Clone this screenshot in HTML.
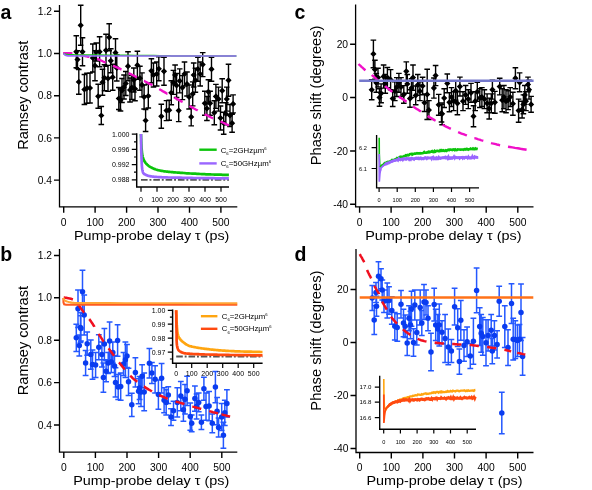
<!DOCTYPE html>
<html><head><meta charset="utf-8"><title>Figure</title>
<style>
html,body{margin:0;padding:0;background:#fff;}
svg{display:block;will-change:transform;}
text{font-family:"Liberation Sans",sans-serif;fill:#000;}
.tk{font-size:10.3px;}
.al{font-size:14px;}
.xl{font-size:13px;}
.pl{font-size:19.5px;font-weight:bold;}
.it{font-size:7px;}
.it2{font-size:5.6px;}
.it3{font-size:6.1px;}
.lg{font-size:7.8px;}
</style></head>
<body>
<svg width="592" height="490" viewBox="0 0 592 490">
<rect width="592" height="490" fill="#fff"/>
<path d="M59.5 5V206.8H237.3" fill="none" stroke="#000" stroke-width="1.3"/>
<path d="M54.0 11.3H59.5M54.0 53.5H59.5M54.0 95.7H59.5M54.0 137.9H59.5M54.0 180.1H59.5M63.7 206.8V212.8M95.1 206.8V212.8M126.6 206.8V212.8M158.0 206.8V212.8M189.5 206.8V212.8M220.9 206.8V212.8" fill="none" stroke="#000" stroke-width="1.4"/>
<text x="52.0" y="14.9" text-anchor="end" class="tk">1.2</text>
<text x="52.0" y="57.1" text-anchor="end" class="tk">1.0</text>
<text x="52.0" y="99.3" text-anchor="end" class="tk">0.8</text>
<text x="52.0" y="141.5" text-anchor="end" class="tk">0.6</text>
<text x="52.0" y="183.7" text-anchor="end" class="tk">0.4</text>
<text x="63.7" y="225.60000000000002" text-anchor="middle" class="tk">0</text>
<text x="95.1" y="225.60000000000002" text-anchor="middle" class="tk">100</text>
<text x="126.6" y="225.60000000000002" text-anchor="middle" class="tk">200</text>
<text x="158.0" y="225.60000000000002" text-anchor="middle" class="tk">300</text>
<text x="189.5" y="225.60000000000002" text-anchor="middle" class="tk">400</text>
<text x="220.9" y="225.60000000000002" text-anchor="middle" class="tk">500</text>
<text x="0.5" y="18.7" class="pl">a</text>
<text transform="translate(28.2,149.8) rotate(-90)" class="al" textLength="109" lengthAdjust="spacingAndGlyphs">Ramsey contrast</text>
<text x="73.9" y="240.4" class="xl" textLength="155.5" lengthAdjust="spacingAndGlyphs">Pump-probe delay τ (ps)</text>
<path d="M76.3 35.8V67.8M73.5 35.8h5.6M73.5 67.8h5.6M77.5 50.6V68.6M74.7 50.6h5.6M74.7 68.6h5.6M78.8 69.5V94.3M76.0 69.5h5.6M76.0 94.3h5.6M80.7 5.3V45.3M77.9 5.3h5.6M77.9 45.3h5.6M82.5 37.8V65.8M79.7 37.8h5.6M79.7 65.8h5.6M84.4 74.5V104.5M81.6 74.5h5.6M81.6 104.5h5.6M86.9 73.2V103.2M84.1 73.2h5.6M84.1 103.2h5.6M90.0 73.0V103.0M87.2 73.0h5.6M87.2 103.0h5.6M92.8 44.0V72.0M90.0 44.0h5.6M90.0 72.0h5.6M95.0 50.7V80.7M92.2 50.7h5.6M92.2 80.7h5.6M96.3 43.0V61.0M93.5 43.0h5.6M93.5 61.0h5.6M98.2 84.3V108.3M95.4 84.3h5.6M95.4 108.3h5.6M99.6 36.8V66.8M96.8 36.8h5.6M96.8 66.8h5.6M101.3 106.5V124.5M98.5 106.5h5.6M98.5 124.5h5.6M102.5 69.3V95.3M99.7 69.3h5.6M99.7 95.3h5.6M104.4 64.8V90.8M101.6 64.8h5.6M101.6 90.8h5.6M106.0 34.3V66.3M103.2 34.3h5.6M103.2 66.3h5.6M108.0 65.4V91.4M105.2 65.4h5.6M105.2 91.4h5.6M109.2 23.8V50.8M106.4 23.8h5.6M106.4 50.8h5.6M110.8 48.8V72.8M108.0 48.8h5.6M108.0 72.8h5.6M112.7 64.2V90.2M109.9 64.2h5.6M109.9 90.2h5.6M115.5 38.7V66.7M112.7 38.7h5.6M112.7 66.7h5.6M116.8 55.0V81.0M114.0 55.0h5.6M114.0 81.0h5.6M118.8 87.5V109.5M116.0 87.5h5.6M116.0 109.5h5.6M120.5 89.0V111.0M117.7 89.0h5.6M117.7 111.0h5.6M122.0 78.5V102.5M119.2 78.5h5.6M119.2 102.5h5.6M124.0 75.0V99.0M121.2 75.0h5.6M121.2 99.0h5.6M125.8 71.5V95.5M123.0 71.5h5.6M123.0 95.5h5.6M128.0 51.7V80.7M125.2 51.7h5.6M125.2 80.7h5.6M130.0 78.0V102.0M127.2 78.0h5.6M127.2 102.0h5.6M131.8 75.5V99.5M129.0 75.5h5.6M129.0 99.5h5.6M133.8 68.0V92.0M131.0 68.0h5.6M131.0 92.0h5.6M135.0 76.8V100.8M132.2 76.8h5.6M132.2 100.8h5.6M137.4 51.2V79.2M134.6 51.2h5.6M134.6 79.2h5.6M139.9 66.2V90.2M137.1 66.2h5.6M137.1 90.2h5.6M142.0 72.9V96.9M139.2 72.9h5.6M139.2 96.9h5.6M144.1 85.0V109.0M141.3 85.0h5.6M141.3 109.0h5.6M145.6 109.5V131.5M142.8 109.5h5.6M142.8 131.5h5.6M148.3 84.0V108.0M145.5 84.0h5.6M145.5 108.0h5.6M151.4 58.8V82.8M148.6 58.8h5.6M148.6 82.8h5.6M153.5 63.0V87.0M150.7 63.0h5.6M150.7 87.0h5.6M156.7 62.0V86.0M153.9 62.0h5.6M153.9 86.0h5.6M158.8 56.8V80.8M156.0 56.8h5.6M156.0 80.8h5.6M161.3 104.3V128.3M158.5 104.3h5.6M158.5 128.3h5.6M164.0 57.3V85.3M161.2 57.3h5.6M161.2 85.3h5.6M166.5 100.6V120.6M163.7 100.6h5.6M163.7 120.6h5.6M169.2 100.2V120.2M166.4 100.2h5.6M166.4 120.2h5.6M171.3 80.8V104.8M168.5 80.8h5.6M168.5 104.8h5.6M173.4 70.4V94.4M170.6 70.4h5.6M170.6 94.4h5.6M175.1 65.0V85.0M172.3 65.0h5.6M172.3 85.0h5.6M176.6 73.5V97.5M173.8 73.5h5.6M173.8 97.5h5.6M178.7 99.6V121.6M175.9 99.6h5.6M175.9 121.6h5.6M179.7 68.9V92.9M176.9 68.9h5.6M176.9 92.9h5.6M182.4 75.6V99.6M179.6 75.6h5.6M179.6 99.6h5.6M184.5 62.0V86.0M181.7 62.0h5.6M181.7 86.0h5.6M187.0 72.0V96.0M184.2 72.0h5.6M184.2 96.0h5.6M189.1 85.0V109.0M186.3 85.0h5.6M186.3 109.0h5.6M191.2 107.9V125.9M188.4 107.9h5.6M188.4 125.9h5.6M192.7 81.9V105.9M189.9 81.9h5.6M189.9 105.9h5.6M193.7 63.0V87.0M190.9 63.0h5.6M190.9 87.0h5.6M195.4 68.3V92.3M192.6 68.3h5.6M192.6 92.3h5.6M197.9 57.2V81.2M195.1 57.2h5.6M195.1 81.2h5.6M200.2 62.0V86.0M197.4 62.0h5.6M197.4 86.0h5.6M202.7 52.6V76.6M199.9 52.6h5.6M199.9 76.6h5.6M204.8 91.3V115.3M202.0 91.3h5.6M202.0 115.3h5.6M206.9 96.5V120.5M204.1 96.5h5.6M204.1 120.5h5.6M208.4 79.8V103.8M205.6 79.8h5.6M205.6 103.8h5.6M210.1 91.3V115.3M207.3 91.3h5.6M207.3 115.3h5.6M211.5 57.2V81.2M208.7 57.2h5.6M208.7 81.2h5.6M214.3 100.7V124.7M211.5 100.7h5.6M211.5 124.7h5.6M215.9 84.4V108.4M213.1 84.4h5.6M213.1 108.4h5.6M218.5 87.1V111.1M215.7 87.1h5.6M215.7 111.1h5.6M220.5 106.0V130.0M217.7 106.0h5.6M217.7 130.0h5.6M222.2 78.7V102.7M219.4 78.7h5.6M219.4 102.7h5.6M223.7 112.2V134.2M220.9 112.2h5.6M220.9 134.2h5.6M225.8 102.8V124.8M223.0 102.8h5.6M223.0 124.8h5.6M226.8 87.1V111.1M224.0 87.1h5.6M224.0 111.1h5.6M228.5 64.3V96.3M225.7 64.3h5.6M225.7 96.3h5.6M230.0 104.5V126.5M227.2 104.5h5.6M227.2 126.5h5.6M232.1 114.2V132.2M229.3 114.2h5.6M229.3 132.2h5.6M233.1 94.9V112.9M230.3 94.9h5.6M230.3 112.9h5.6" fill="none" stroke="#000" stroke-width="1.4"/>
<path d="M76.3 48.7l3.1 3.1l-3.1 3.1l-3.1 -3.1zM77.5 56.5l3.1 3.1l-3.1 3.1l-3.1 -3.1zM78.8 78.8l3.1 3.1l-3.1 3.1l-3.1 -3.1zM80.7 22.2l3.1 3.1l-3.1 3.1l-3.1 -3.1zM82.5 48.7l3.1 3.1l-3.1 3.1l-3.1 -3.1zM84.4 86.4l3.1 3.1l-3.1 3.1l-3.1 -3.1zM86.9 85.1l3.1 3.1l-3.1 3.1l-3.1 -3.1zM90.0 84.9l3.1 3.1l-3.1 3.1l-3.1 -3.1zM92.8 54.9l3.1 3.1l-3.1 3.1l-3.1 -3.1zM95.0 62.6l3.1 3.1l-3.1 3.1l-3.1 -3.1zM96.3 48.9l3.1 3.1l-3.1 3.1l-3.1 -3.1zM98.2 93.2l3.1 3.1l-3.1 3.1l-3.1 -3.1zM99.6 48.7l3.1 3.1l-3.1 3.1l-3.1 -3.1zM101.3 112.4l3.1 3.1l-3.1 3.1l-3.1 -3.1zM102.5 79.2l3.1 3.1l-3.1 3.1l-3.1 -3.1zM104.4 74.7l3.1 3.1l-3.1 3.1l-3.1 -3.1zM106.0 47.2l3.1 3.1l-3.1 3.1l-3.1 -3.1zM108.0 75.3l3.1 3.1l-3.1 3.1l-3.1 -3.1zM109.2 34.2l3.1 3.1l-3.1 3.1l-3.1 -3.1zM110.8 57.7l3.1 3.1l-3.1 3.1l-3.1 -3.1zM112.7 74.1l3.1 3.1l-3.1 3.1l-3.1 -3.1zM115.5 49.6l3.1 3.1l-3.1 3.1l-3.1 -3.1zM116.8 64.9l3.1 3.1l-3.1 3.1l-3.1 -3.1zM118.8 95.4l3.1 3.1l-3.1 3.1l-3.1 -3.1zM120.5 96.9l3.1 3.1l-3.1 3.1l-3.1 -3.1zM122.0 87.4l3.1 3.1l-3.1 3.1l-3.1 -3.1zM124.0 83.9l3.1 3.1l-3.1 3.1l-3.1 -3.1zM125.8 80.4l3.1 3.1l-3.1 3.1l-3.1 -3.1zM128.0 63.1l3.1 3.1l-3.1 3.1l-3.1 -3.1zM130.0 86.9l3.1 3.1l-3.1 3.1l-3.1 -3.1zM131.8 84.4l3.1 3.1l-3.1 3.1l-3.1 -3.1zM133.8 76.9l3.1 3.1l-3.1 3.1l-3.1 -3.1zM135.0 85.7l3.1 3.1l-3.1 3.1l-3.1 -3.1zM137.4 62.1l3.1 3.1l-3.1 3.1l-3.1 -3.1zM139.9 75.1l3.1 3.1l-3.1 3.1l-3.1 -3.1zM142.0 81.8l3.1 3.1l-3.1 3.1l-3.1 -3.1zM144.1 93.9l3.1 3.1l-3.1 3.1l-3.1 -3.1zM145.6 117.4l3.1 3.1l-3.1 3.1l-3.1 -3.1zM148.3 92.9l3.1 3.1l-3.1 3.1l-3.1 -3.1zM151.4 67.7l3.1 3.1l-3.1 3.1l-3.1 -3.1zM153.5 71.9l3.1 3.1l-3.1 3.1l-3.1 -3.1zM156.7 70.9l3.1 3.1l-3.1 3.1l-3.1 -3.1zM158.8 65.7l3.1 3.1l-3.1 3.1l-3.1 -3.1zM161.3 113.2l3.1 3.1l-3.1 3.1l-3.1 -3.1zM164.0 68.2l3.1 3.1l-3.1 3.1l-3.1 -3.1zM166.5 107.5l3.1 3.1l-3.1 3.1l-3.1 -3.1zM169.2 107.1l3.1 3.1l-3.1 3.1l-3.1 -3.1zM171.3 89.7l3.1 3.1l-3.1 3.1l-3.1 -3.1zM173.4 79.3l3.1 3.1l-3.1 3.1l-3.1 -3.1zM175.1 71.9l3.1 3.1l-3.1 3.1l-3.1 -3.1zM176.6 82.4l3.1 3.1l-3.1 3.1l-3.1 -3.1zM178.7 107.5l3.1 3.1l-3.1 3.1l-3.1 -3.1zM179.7 77.8l3.1 3.1l-3.1 3.1l-3.1 -3.1zM182.4 84.5l3.1 3.1l-3.1 3.1l-3.1 -3.1zM184.5 70.9l3.1 3.1l-3.1 3.1l-3.1 -3.1zM187.0 80.9l3.1 3.1l-3.1 3.1l-3.1 -3.1zM189.1 93.9l3.1 3.1l-3.1 3.1l-3.1 -3.1zM191.2 113.8l3.1 3.1l-3.1 3.1l-3.1 -3.1zM192.7 90.8l3.1 3.1l-3.1 3.1l-3.1 -3.1zM193.7 71.9l3.1 3.1l-3.1 3.1l-3.1 -3.1zM195.4 77.2l3.1 3.1l-3.1 3.1l-3.1 -3.1zM197.9 66.1l3.1 3.1l-3.1 3.1l-3.1 -3.1zM200.2 70.9l3.1 3.1l-3.1 3.1l-3.1 -3.1zM202.7 61.5l3.1 3.1l-3.1 3.1l-3.1 -3.1zM204.8 100.2l3.1 3.1l-3.1 3.1l-3.1 -3.1zM206.9 105.4l3.1 3.1l-3.1 3.1l-3.1 -3.1zM208.4 88.7l3.1 3.1l-3.1 3.1l-3.1 -3.1zM210.1 100.2l3.1 3.1l-3.1 3.1l-3.1 -3.1zM211.5 66.1l3.1 3.1l-3.1 3.1l-3.1 -3.1zM214.3 109.6l3.1 3.1l-3.1 3.1l-3.1 -3.1zM215.9 93.3l3.1 3.1l-3.1 3.1l-3.1 -3.1zM218.5 96.0l3.1 3.1l-3.1 3.1l-3.1 -3.1zM220.5 114.9l3.1 3.1l-3.1 3.1l-3.1 -3.1zM222.2 87.6l3.1 3.1l-3.1 3.1l-3.1 -3.1zM223.7 120.1l3.1 3.1l-3.1 3.1l-3.1 -3.1zM225.8 110.7l3.1 3.1l-3.1 3.1l-3.1 -3.1zM226.8 96.0l3.1 3.1l-3.1 3.1l-3.1 -3.1zM228.5 77.2l3.1 3.1l-3.1 3.1l-3.1 -3.1zM230.0 112.4l3.1 3.1l-3.1 3.1l-3.1 -3.1zM232.1 120.1l3.1 3.1l-3.1 3.1l-3.1 -3.1zM233.1 100.8l3.1 3.1l-3.1 3.1l-3.1 -3.1z" fill="#000"/>
<path d="M63.1 53.2L63.8 53.2L64.7 53.2L65.8 53.2L67.0 53.1L68.3 53.1L69.7 53.2L71.1 53.3L72.4 53.4M80.2 54.9L80.5 55.0L82.2 55.4L83.7 55.7L85.0 56.0L86.2 56.2L87.3 56.5L88.3 56.7L89.2 56.9L89.3 56.9M97.1 58.9L97.5 59.0L98.3 59.3L99.2 59.7L100.1 60.1L101.1 60.5L102.1 61.0L103.1 61.5L104.0 61.9L105.0 62.3L105.6 62.6M113.1 65.5L113.5 65.8L114.6 66.3L115.8 66.8L116.9 67.3L118.0 67.9L119.1 68.4L120.2 68.9L121.2 69.4L121.5 69.5M128.7 73.0L129.7 73.6L130.8 74.1L132.0 74.8L133.2 75.4L134.4 76.0L135.6 76.6L136.7 77.2L136.9 77.3M144.0 81.0L144.1 81.0L145.1 81.5L146.1 82.0L147.1 82.5L148.2 83.1L149.3 83.6L150.4 84.2L151.5 84.7L152.3 85.2M159.3 89.1L159.9 89.5L160.8 90.0L161.7 90.5L162.6 91.1L163.6 91.6L164.5 92.1L165.4 92.6L166.4 93.2L167.3 93.7L167.4 93.7M174.4 97.5L174.5 97.6L175.5 98.1L176.5 98.7L177.6 99.2L178.7 99.9L179.8 100.5L180.9 101.1L181.9 101.7L182.6 102.0M189.5 106.0L190.2 106.4L191.2 107.0L192.4 107.6L193.6 108.3L194.9 109.0L196.2 109.7L197.4 110.3L197.7 110.5M204.8 114.2L205.0 114.4L205.9 114.8L206.9 115.3L207.9 115.8L209.0 116.4L210.1 116.9L211.2 117.5L212.3 118.0L213.1 118.4M220.5 121.5L220.5 121.5L221.5 121.9L222.6 122.5L223.9 123.0L225.1 123.6L226.3 124.2L227.3 124.7L228.2 125.1L228.9 125.4" fill="none" stroke="#f010c8" stroke-width="2.4"/>
<path d="M63.7 53.5L63.9 53.6L64.1 53.7L64.5 53.8L64.8 54.0L65.2 54.1L65.5 54.2L65.8 54.3L66.0 54.4L66.2 54.4L66.5 54.5L67.0 54.5L67.8 54.6L68.8 54.7L70.0 54.7L71.4 54.8L73.0 54.8L74.9 54.9L77.1 54.9L79.5 54.9L82.1 55.0L85.0 55.0L88.2 55.0L91.8 55.1L95.8 55.1L100.4 55.1L105.4 55.2L110.9 55.2L116.6 55.2L122.4 55.3L128.2 55.3L134.3 55.4L140.8 55.4L147.4 55.5L153.8 55.6L159.8 55.7L165.0 55.8L168.9 55.8L171.7 55.9L174.1 55.9L176.6 55.9L180.0 56.0L185.0 56.0L192.3 56.0L201.7 56.0L211.9 56.0L221.9 56.0L230.4 56.0L236.4 56.0" fill="none" stroke="#18c418" stroke-width="1.5" />
<path d="M63.7 53.5L63.8 53.6L63.9 53.8L64.0 54.0L64.2 54.2L64.4 54.4L64.6 54.6L64.8 54.8L65.0 55.0L65.2 55.1L65.5 55.3L65.9 55.5L66.5 55.6L67.1 55.7L67.6 55.8L68.2 55.8L69.1 55.8L70.5 55.9L72.5 55.9L74.0 55.9L74.6 56.0L75.7 56.0L78.7 56.0L84.9 56.0L95.8 56.0L114.1 56.0L139.2 56.0L167.6 56.0L195.6 56.0L219.7 56.0L236.4 56.0" fill="none" stroke="#9a68ff" stroke-width="1.7" />
<path d="M136.7 133.3V186.9H229" fill="none" stroke="#000" stroke-width="1.45"/>
<path d="M131.8 134.2H136.5M131.8 149.4H136.5M131.8 164.6H136.5M131.8 179.8H136.5M134.0 141.8H136.5M134.0 157H136.5M134.0 172.2H136.5M141.0 186.9v4.9M157.0 186.9v4.9M173.0 186.9v4.9M189.0 186.9v4.9M205.0 186.9v4.9M221.0 186.9v4.9" fill="none" stroke="#000" stroke-width="1.2"/>
<text x="129.5" y="136.5" text-anchor="end" class="it">1.000</text>
<text x="129.5" y="151.70000000000002" text-anchor="end" class="it">0.996</text>
<text x="129.5" y="166.9" text-anchor="end" class="it">0.992</text>
<text x="129.5" y="182.10000000000002" text-anchor="end" class="it">0.988</text>
<text x="141.0" y="201.6" text-anchor="middle" class="it">0</text>
<text x="157.0" y="201.6" text-anchor="middle" class="it">100</text>
<text x="173.0" y="201.6" text-anchor="middle" class="it">200</text>
<text x="189.0" y="201.6" text-anchor="middle" class="it">300</text>
<text x="205.0" y="201.6" text-anchor="middle" class="it">400</text>
<text x="221.0" y="201.6" text-anchor="middle" class="it">500</text>
<path d="M141 179.9H229" fill="none" stroke="#555" stroke-width="1.9" stroke-dasharray="6.6 1.9 1.9 1.9"/>
<path d="M141.0 134.0L141.0 134.4L141.0 134.9L141.0 135.4L141.1 136.0L141.1 136.6L141.1 137.3L141.1 138.0L141.2 138.8L141.2 139.6L141.2 140.4L141.2 141.2L141.3 142.0L141.3 142.8L141.3 143.6L141.4 144.4L141.4 145.2L141.5 146.0L141.5 146.7L141.5 147.4L141.6 148.0L141.7 148.6L141.7 149.2L141.7 149.8L141.8 150.3L141.8 150.9L141.9 151.4L141.9 151.9L142.0 152.5L142.0 153.0L142.1 153.5L142.2 154.0L142.2 154.5L142.3 154.9L142.4 155.4L142.5 155.9L142.6 156.3L142.7 156.8L142.8 157.2L143.0 157.7L143.1 158.1L143.3 158.5L143.4 158.9L143.6 159.4L143.8 159.8L143.9 160.1L144.1 160.5L144.3 160.9L144.5 161.3L144.7 161.6L145.0 162.0L145.2 162.3L145.4 162.7L145.7 163.0L145.9 163.3L146.2 163.7L146.5 164.0L146.8 164.3L147.1 164.6L147.5 164.9L147.8 165.2L148.2 165.5L148.5 165.8L148.9 166.1L149.3 166.3L149.7 166.6L150.1 166.9L150.5 167.1L150.9 167.4L151.4 167.6L151.8 167.8L152.3 168.1L152.8 168.3L153.3 168.5L153.8 168.7L154.3 168.9L154.9 169.1L155.4 169.3L156.0 169.5L156.7 169.7L157.3 169.9L158.0 170.1L158.6 170.2L159.3 170.4L159.9 170.5L160.6 170.7L161.3 170.8L162.0 170.9L162.7 171.0L163.5 171.2L164.2 171.3L165.0 171.4L165.8 171.5L166.7 171.6L167.6 171.7L168.5 171.8L169.5 171.9L170.5 172.0L171.5 172.1L172.6 172.2L173.8 172.3L175.0 172.4L176.3 172.5L177.7 172.6L179.1 172.7L180.6 172.8L182.2 172.9L183.8 173.0L185.4 173.2L187.0 173.3L188.7 173.4L190.4 173.5L192.1 173.6L193.7 173.6L195.4 173.7L197.0 173.8L198.6 173.9L200.2 174.0L201.7 174.1L203.2 174.1L204.6 174.2L206.0 174.3L207.4 174.3L208.8 174.4L210.3 174.4L211.7 174.5L213.1 174.5L214.6 174.6L216.0 174.6L217.3 174.6L218.7 174.7L220.0 174.7L221.2 174.7L222.5 174.8L223.6 174.8L224.7 174.8L225.7 174.8L226.6 174.8L227.5 174.9L228.2 174.9L228.9 174.9" fill="none" stroke="#0cc40c" stroke-width="2.7" />
<path d="M141.0 134.0L141.0 134.6L141.0 135.3L141.0 136.1L141.0 137.0L141.1 137.9L141.1 138.9L141.1 140.0L141.1 141.2L141.1 142.4L141.1 143.6L141.2 144.8L141.2 146.0L141.2 147.3L141.2 148.5L141.2 149.7L141.3 150.9L141.3 152.0L141.3 153.1L141.4 154.1L141.4 155.0L141.4 155.9L141.5 156.8L141.5 157.7L141.5 158.5L141.6 159.4L141.6 160.2L141.6 161.1L141.7 161.9L141.7 162.7L141.7 163.5L141.8 164.2L141.8 165.0L141.9 165.7L141.9 166.4L142.0 167.0L142.1 167.7L142.1 168.3L142.2 168.8L142.3 169.4L142.4 169.9L142.5 170.4L142.6 170.8L142.7 171.2L142.7 171.5L142.8 171.9L142.9 172.2L143.0 172.4L143.1 172.7L143.2 172.9L143.3 173.1L143.4 173.3L143.5 173.4L143.7 173.6L143.9 173.8L144.1 173.9L144.3 174.1L144.5 174.2L144.8 174.4L145.1 174.5L145.5 174.7L145.9 174.9L146.2 175.0L146.6 175.2L147.0 175.3L147.3 175.5L147.7 175.6L148.2 175.7L148.6 175.9L149.1 176.0L149.5 176.1L150.1 176.2L150.7 176.3L151.3 176.4L151.9 176.5L152.7 176.6L153.5 176.7L154.3 176.8L155.2 176.8L156.2 176.9L157.3 177.0L158.5 177.1L159.7 177.1L161.0 177.2L162.4 177.3L163.9 177.3L165.4 177.4L167.0 177.4L168.6 177.5L170.2 177.5L172.0 177.6L173.7 177.6L175.5 177.6L177.3 177.7L179.1 177.7L180.9 177.7L182.7 177.8L184.6 177.8L186.4 177.8L188.2 177.9L190.0 177.9L191.9 177.9L193.8 178.0L195.9 178.0L198.0 178.0L200.2 178.1L202.4 178.1L204.7 178.1L207.0 178.2L209.2 178.2L211.5 178.2L213.7 178.2L215.8 178.3L217.9 178.3L219.9 178.3L221.8 178.3L223.5 178.3L225.1 178.4L226.6 178.4L227.8 178.4L228.9 178.4" fill="none" stroke="#9a66ff" stroke-width="2.7" />
<path d="M199.3 149.7H216.7" stroke="#0cc40c" stroke-width="2.4"/>
<path d="M199.3 163.4H216.7" stroke="#9a66ff" stroke-width="2.4"/>
<text x="220.7" y="152.8" class="lg" textLength="45.8" lengthAdjust="spacingAndGlyphs">C<tspan dy="2.2" font-size="4.2">6</tspan><tspan dy="-2.2">=2GHzµm</tspan><tspan dy="-3.0" font-size="4.2">6</tspan></text>
<text x="220.7" y="166" class="lg" textLength="50.4" lengthAdjust="spacingAndGlyphs">C<tspan dy="2.2" font-size="4.2">6</tspan><tspan dy="-2.2">=50GHzµm</tspan><tspan dy="-3.0" font-size="4.2">6</tspan></text>
<path d="M355.6 4.5V206.8H533.5" fill="none" stroke="#000" stroke-width="1.3"/>
<path d="M350.1 44.2H355.6M350.1 97.5H355.6M350.1 151H355.6M350.1 204.2H355.6M359.6 206.8V212.8M391.1 206.8V212.8M422.6 206.8V212.8M454.3 206.8V212.8M486.2 206.8V212.8M517.8 206.8V212.8" fill="none" stroke="#000" stroke-width="1.4"/>
<text x="348.1" y="47.800000000000004" text-anchor="end" class="tk">20</text>
<text x="348.1" y="101.1" text-anchor="end" class="tk">0</text>
<text x="348.1" y="154.6" text-anchor="end" class="tk">-20</text>
<text x="348.1" y="207.79999999999998" text-anchor="end" class="tk">-40</text>
<text x="359.6" y="225.60000000000002" text-anchor="middle" class="tk">0</text>
<text x="391.1" y="225.60000000000002" text-anchor="middle" class="tk">100</text>
<text x="422.6" y="225.60000000000002" text-anchor="middle" class="tk">200</text>
<text x="454.3" y="225.60000000000002" text-anchor="middle" class="tk">300</text>
<text x="486.2" y="225.60000000000002" text-anchor="middle" class="tk">400</text>
<text x="517.8" y="225.60000000000002" text-anchor="middle" class="tk">500</text>
<text x="294.5" y="18.7" class="pl">c</text>
<text transform="translate(321,165.3) rotate(-90)" class="al" textLength="139.8" lengthAdjust="spacingAndGlyphs">Phase shift (degrees)</text>
<text x="365.2" y="240.4" class="xl" textLength="156.3" lengthAdjust="spacingAndGlyphs">Pump-probe delay τ (ps)</text>
<path d="M373.4 40.1V67.8M370.6 40.1h5.6M370.6 67.8h5.6M371.7 79.7V99.8M368.9 79.7h5.6M368.9 99.8h5.6M374.9 60.2V79.1M372.1 60.2h5.6M372.1 79.1h5.6M376.3 73.4V92.3M373.5 73.4h5.6M373.5 92.3h5.6M378.0 68.2V87.0M375.2 68.2h5.6M375.2 87.0h5.6M379.5 88.7V106.3M376.7 88.7h5.6M376.7 106.3h5.6M381.1 83.9V102.7M378.3 83.9h5.6M378.3 102.7h5.6M383.6 65.0V88.1M380.8 65.0h5.6M380.8 88.1h5.6M385.3 74.5V93.3M382.5 74.5h5.6M382.5 93.3h5.6M387.4 67.5V87.7M384.6 67.5h5.6M384.6 87.7h5.6M390.6 69.6V89.8M387.8 69.6h5.6M387.8 89.8h5.6M392.7 90.6V106.5M389.9 90.6h5.6M389.9 106.5h5.6M394.8 81.8V100.6M392.0 81.8h5.6M392.0 100.6h5.6M396.8 77.6V96.5M394.0 77.6h5.6M394.0 96.5h5.6M398.9 73.4V92.3M396.1 73.4h5.6M396.1 92.3h5.6M401.0 77.6V96.5M398.2 77.6h5.6M398.2 96.5h5.6M403.8 85.6V103.2M401.0 85.6h5.6M401.0 103.2h5.6M406.3 61.9V80.7M403.5 61.9h5.6M403.5 80.7h5.6M407.3 74.5V93.3M404.5 74.5h5.6M404.5 93.3h5.6M410.0 89.8V107.3M407.2 89.8h5.6M407.2 107.3h5.6M411.5 78.7V97.5M408.7 78.7h5.6M408.7 97.5h5.6M413.0 65.0V90.2M410.2 65.0h5.6M410.2 90.2h5.6M415.7 86.0V104.8M412.9 86.0h5.6M412.9 104.8h5.6M417.8 74.5V95.4M415.0 74.5h5.6M415.0 95.4h5.6M419.9 81.8V100.6M417.1 81.8h5.6M417.1 100.6h5.6M422.6 77.2V94.8M419.8 77.2h5.6M419.8 94.8h5.6M424.5 93.9V111.5M421.7 93.9h5.6M421.7 111.5h5.6M427.2 69.2V119.5M424.4 69.2h5.6M424.4 119.5h5.6M428.9 100.6V119.5M426.1 100.6h5.6M426.1 119.5h5.6M433.9 78.0V98.1M431.1 78.0h5.6M431.1 98.1h5.6M435.6 65.5V85.6M432.8 65.5h5.6M432.8 85.6h5.6M438.7 94.4V115.3M435.9 94.4h5.6M435.9 115.3h5.6M441.5 104.4V122.0M438.7 104.4h5.6M438.7 122.0h5.6M442.1 102.9V124.7M439.3 102.9h5.6M439.3 124.7h5.6M444.2 88.7V107.5M441.4 88.7h5.6M441.4 107.5h5.6M447.3 74.0V92.8M444.5 74.0h5.6M444.5 92.8h5.6M449.4 92.8V111.7M446.6 92.8h5.6M446.6 111.7h5.6M451.5 87.6V106.5M448.7 87.6h5.6M448.7 106.5h5.6M453.6 91.8V110.6M450.8 91.8h5.6M450.8 110.6h5.6M455.7 81.3V100.2M452.9 81.3h5.6M452.9 100.2h5.6M457.4 91.8V114.8M454.6 91.8h5.6M454.6 114.8h5.6M459.9 77.1V96.0M457.1 77.1h5.6M457.1 96.0h5.6M463.0 91.8V110.6M460.2 91.8h5.6M460.2 110.6h5.6M465.6 85.5V104.4M462.8 85.5h5.6M462.8 104.4h5.6M468.3 89.7V108.6M465.5 89.7h5.6M465.5 108.6h5.6M471.0 83.4V102.3M468.2 83.4h5.6M468.2 102.3h5.6M473.5 105.8V126.8M470.7 105.8h5.6M470.7 126.8h5.6M475.2 91.8V110.6M472.4 91.8h5.6M472.4 110.6h5.6M477.3 82.4V101.2M474.5 82.4h5.6M474.5 101.2h5.6M479.8 88.7V107.5M477.0 88.7h5.6M477.0 107.5h5.6M481.9 87.6V106.5M479.1 87.6h5.6M479.1 106.5h5.6M484.4 89.7V108.6M481.6 89.7h5.6M481.6 108.6h5.6M487.1 93.9V112.7M484.3 93.9h5.6M484.3 112.7h5.6M489.2 98.1V119.0M486.4 98.1h5.6M486.4 119.0h5.6M491.3 93.9V112.7M488.5 93.9h5.6M488.5 112.7h5.6M492.4 80.3V99.1M489.6 80.3h5.6M489.6 99.1h5.6M494.9 91.4V113.2M492.1 91.4h5.6M492.1 113.2h5.6M499.7 78.2V94.9M496.9 78.2h5.6M496.9 94.9h5.6M502.2 88.7V111.7M499.4 88.7h5.6M499.4 111.7h5.6M503.9 85.5V108.6M501.1 85.5h5.6M501.1 108.6h5.6M506.0 89.7V112.7M503.2 89.7h5.6M503.2 112.7h5.6M508.1 90.7V109.6M505.3 90.7h5.6M505.3 109.6h5.6M510.2 87.6V106.5M507.4 87.6h5.6M507.4 106.5h5.6M512.9 92.2V115.3M510.1 92.2h5.6M510.1 115.3h5.6M515.4 67.7V88.7M512.6 67.7h5.6M512.6 88.7h5.6M518.6 99.1V122.2M515.8 99.1h5.6M515.8 122.2h5.6M519.6 72.9V91.8M516.8 72.9h5.6M516.8 91.8h5.6M522.1 101.2V118.0M519.3 101.2h5.6M519.3 118.0h5.6M523.4 94.9V113.8M520.6 94.9h5.6M520.6 113.8h5.6M524.8 85.5V104.4M522.0 85.5h5.6M522.0 104.4h5.6M525.9 91.8V110.6M523.1 91.8h5.6M523.1 110.6h5.6M528.0 77.1V91.8M525.2 77.1h5.6M525.2 91.8h5.6M529.0 80.3V99.1M526.2 80.3h5.6M526.2 99.1h5.6M531.1 96.4V112.3M528.3 96.4h5.6M528.3 112.3h5.6" fill="none" stroke="#000" stroke-width="1.4"/>
<path d="M373.4 50.8l3.1 3.1l-3.1 3.1l-3.1 -3.1zM371.7 86.7l3.1 3.1l-3.1 3.1l-3.1 -3.1zM374.9 66.5l3.1 3.1l-3.1 3.1l-3.1 -3.1zM376.3 79.7l3.1 3.1l-3.1 3.1l-3.1 -3.1zM378.0 74.5l3.1 3.1l-3.1 3.1l-3.1 -3.1zM379.5 94.4l3.1 3.1l-3.1 3.1l-3.1 -3.1zM381.1 90.2l3.1 3.1l-3.1 3.1l-3.1 -3.1zM383.6 73.5l3.1 3.1l-3.1 3.1l-3.1 -3.1zM385.3 80.8l3.1 3.1l-3.1 3.1l-3.1 -3.1zM387.4 74.5l3.1 3.1l-3.1 3.1l-3.1 -3.1zM390.6 76.6l3.1 3.1l-3.1 3.1l-3.1 -3.1zM392.7 95.5l3.1 3.1l-3.1 3.1l-3.1 -3.1zM394.8 88.1l3.1 3.1l-3.1 3.1l-3.1 -3.1zM396.8 83.9l3.1 3.1l-3.1 3.1l-3.1 -3.1zM398.9 79.7l3.1 3.1l-3.1 3.1l-3.1 -3.1zM401.0 83.9l3.1 3.1l-3.1 3.1l-3.1 -3.1zM403.8 91.3l3.1 3.1l-3.1 3.1l-3.1 -3.1zM406.3 68.2l3.1 3.1l-3.1 3.1l-3.1 -3.1zM407.3 80.8l3.1 3.1l-3.1 3.1l-3.1 -3.1zM410.0 95.5l3.1 3.1l-3.1 3.1l-3.1 -3.1zM411.5 85.0l3.1 3.1l-3.1 3.1l-3.1 -3.1zM413.0 74.5l3.1 3.1l-3.1 3.1l-3.1 -3.1zM415.7 92.3l3.1 3.1l-3.1 3.1l-3.1 -3.1zM417.8 81.8l3.1 3.1l-3.1 3.1l-3.1 -3.1zM419.9 88.1l3.1 3.1l-3.1 3.1l-3.1 -3.1zM422.6 82.9l3.1 3.1l-3.1 3.1l-3.1 -3.1zM424.5 99.6l3.1 3.1l-3.1 3.1l-3.1 -3.1zM427.2 91.3l3.1 3.1l-3.1 3.1l-3.1 -3.1zM428.9 107.0l3.1 3.1l-3.1 3.1l-3.1 -3.1zM433.9 85.0l3.1 3.1l-3.1 3.1l-3.1 -3.1zM435.6 72.4l3.1 3.1l-3.1 3.1l-3.1 -3.1zM438.7 101.7l3.1 3.1l-3.1 3.1l-3.1 -3.1zM441.5 110.1l3.1 3.1l-3.1 3.1l-3.1 -3.1zM442.1 110.7l3.1 3.1l-3.1 3.1l-3.1 -3.1zM444.2 95.0l3.1 3.1l-3.1 3.1l-3.1 -3.1zM447.3 80.3l3.1 3.1l-3.1 3.1l-3.1 -3.1zM449.4 99.2l3.1 3.1l-3.1 3.1l-3.1 -3.1zM451.5 93.9l3.1 3.1l-3.1 3.1l-3.1 -3.1zM453.6 98.1l3.1 3.1l-3.1 3.1l-3.1 -3.1zM455.7 87.6l3.1 3.1l-3.1 3.1l-3.1 -3.1zM457.4 100.2l3.1 3.1l-3.1 3.1l-3.1 -3.1zM459.9 83.5l3.1 3.1l-3.1 3.1l-3.1 -3.1zM463.0 98.1l3.1 3.1l-3.1 3.1l-3.1 -3.1zM465.6 91.8l3.1 3.1l-3.1 3.1l-3.1 -3.1zM468.3 96.0l3.1 3.1l-3.1 3.1l-3.1 -3.1zM471.0 89.7l3.1 3.1l-3.1 3.1l-3.1 -3.1zM473.5 113.2l3.1 3.1l-3.1 3.1l-3.1 -3.1zM475.2 98.1l3.1 3.1l-3.1 3.1l-3.1 -3.1zM477.3 88.7l3.1 3.1l-3.1 3.1l-3.1 -3.1zM479.8 95.0l3.1 3.1l-3.1 3.1l-3.1 -3.1zM481.9 93.9l3.1 3.1l-3.1 3.1l-3.1 -3.1zM484.4 96.0l3.1 3.1l-3.1 3.1l-3.1 -3.1zM487.1 100.2l3.1 3.1l-3.1 3.1l-3.1 -3.1zM489.2 105.5l3.1 3.1l-3.1 3.1l-3.1 -3.1zM491.3 100.2l3.1 3.1l-3.1 3.1l-3.1 -3.1zM492.4 86.6l3.1 3.1l-3.1 3.1l-3.1 -3.1zM494.9 99.2l3.1 3.1l-3.1 3.1l-3.1 -3.1zM499.7 83.5l3.1 3.1l-3.1 3.1l-3.1 -3.1zM502.2 97.1l3.1 3.1l-3.1 3.1l-3.1 -3.1zM503.9 93.9l3.1 3.1l-3.1 3.1l-3.1 -3.1zM506.0 98.1l3.1 3.1l-3.1 3.1l-3.1 -3.1zM508.1 97.1l3.1 3.1l-3.1 3.1l-3.1 -3.1zM510.2 93.9l3.1 3.1l-3.1 3.1l-3.1 -3.1zM512.9 100.6l3.1 3.1l-3.1 3.1l-3.1 -3.1zM515.4 75.1l3.1 3.1l-3.1 3.1l-3.1 -3.1zM518.6 107.5l3.1 3.1l-3.1 3.1l-3.1 -3.1zM519.6 79.3l3.1 3.1l-3.1 3.1l-3.1 -3.1zM522.1 106.5l3.1 3.1l-3.1 3.1l-3.1 -3.1zM523.4 101.3l3.1 3.1l-3.1 3.1l-3.1 -3.1zM524.8 91.8l3.1 3.1l-3.1 3.1l-3.1 -3.1zM525.9 98.1l3.1 3.1l-3.1 3.1l-3.1 -3.1zM528.0 81.4l3.1 3.1l-3.1 3.1l-3.1 -3.1zM529.0 86.6l3.1 3.1l-3.1 3.1l-3.1 -3.1zM531.1 101.3l3.1 3.1l-3.1 3.1l-3.1 -3.1z" fill="#000"/>
<path d="M358.5 64.0L359.0 64.5L359.7 65.2L360.6 65.9L361.5 66.8L362.5 67.7L363.5 68.6L364.5 69.5L365.4 70.3M371.8 75.0L371.9 75.1L372.8 75.8L373.6 76.5L374.4 77.2L375.2 77.9L376.0 78.6L376.7 79.3L377.5 80.0L378.2 80.7L378.8 81.2M385.1 86.1L385.3 86.3L386.2 87.0L387.1 87.7L388.0 88.4L388.9 89.2L389.9 89.9L390.8 90.7L391.8 91.4L392.4 91.9M398.9 96.6L399.1 96.8L400.0 97.4L400.9 98.0L401.8 98.6L402.8 99.2L403.7 99.8L404.6 100.4L405.5 101.0L406.4 101.6L406.6 101.7M413.1 106.5L413.6 106.9L414.6 107.6L415.6 108.2L416.7 108.9L417.8 109.6L418.9 110.3L420.0 111.0L420.9 111.6M427.6 116.0L428.3 116.4L429.2 116.9L430.1 117.5L431.0 118.0L431.9 118.5L432.8 119.1L433.7 119.6L434.7 120.2L435.6 120.7M442.5 124.7L443.0 125.0L444.0 125.5L445.1 126.1L446.1 126.6L447.2 127.2L448.3 127.7L449.3 128.2L450.4 128.7L450.8 128.9M458.1 132.2L458.8 132.5L459.9 132.9L461.0 133.4L462.2 133.8L463.4 134.2L464.7 134.7L465.9 135.1L466.9 135.5M474.4 138.1L474.5 138.1L475.5 138.4L476.5 138.7L477.6 139.1L478.6 139.4L479.7 139.7L480.8 140.1L481.8 140.4L482.9 140.7L483.3 140.8M491.0 143.0L491.3 143.1L492.3 143.4L493.4 143.6L494.6 143.9L495.7 144.2L496.9 144.5L498.0 144.7L499.1 145.0L500.1 145.2M508.0 146.7L508.0 146.7L509.9 147.0L512.3 147.4L515.0 147.9L517.8 148.3L520.5 148.8L523.0 149.2L525.1 149.5L526.6 149.8" fill="none" stroke="#f010c8" stroke-width="2.4"/>
<path d="M359.2 80.8L533.6 80.8" fill="none" stroke="#7478cc" stroke-width="2.4" />
<path d="M376.6 135V187.8H479" fill="none" stroke="#000" stroke-width="1.35"/>
<path d="M371.6 147.6H376.8M371.6 168.5H376.8M379.1 187.8v4.2M397.2 187.8v4.2M415.3 187.8v4.2M433.4 187.8v4.2M451.5 187.8v4.2M469.6 187.8v4.2" fill="none" stroke="#000" stroke-width="1.2"/>
<text x="366.8" y="149.6" text-anchor="end" class="it2">6.2</text>
<text x="366.8" y="170.5" text-anchor="end" class="it2">6.1</text>
<text x="379.1" y="202" text-anchor="middle" class="it2">0</text>
<text x="397.2" y="202" text-anchor="middle" class="it2">100</text>
<text x="415.3" y="202" text-anchor="middle" class="it2">200</text>
<text x="433.4" y="202" text-anchor="middle" class="it2">300</text>
<text x="451.5" y="202" text-anchor="middle" class="it2">400</text>
<text x="469.6" y="202" text-anchor="middle" class="it2">500</text>
<path d="M379.2 137.8L379.3 154.0L379.9 167.5" fill="none" stroke="#0cc40c" stroke-width="1.6" />
<path d="M379.2 154.0L379.3 181.8L379.9 174.0L380.6 169.0" fill="none" stroke="#9a66ff" stroke-width="1.7" />
<path d="M380.2 167.3L381.0 166.6L381.8 165.6L382.6 165.3L383.4 164.8L384.2 163.6L385.0 163.1L385.8 163.5L386.6 162.5L387.4 162.1L388.2 162.6L389.0 161.7L389.8 161.7L390.6 161.0L391.4 160.9L392.2 160.0L393.0 160.2L393.8 160.2L394.6 159.5L395.4 159.4L396.2 159.0L397.0 158.1L397.8 158.5L398.6 158.0L399.4 157.4L400.2 156.8L401.0 157.4L401.8 156.7L402.6 156.7L403.4 156.6L404.2 156.1L405.0 156.1L405.8 155.3L406.6 155.6L407.4 155.0L408.2 155.3L409.0 155.1L409.8 154.1L410.6 154.0L411.4 153.9L412.2 154.6L413.0 153.9L413.8 154.0L414.6 153.5L415.4 153.6L416.2 153.4L417.0 153.2L417.8 153.4L418.6 153.3L419.4 153.5L420.2 153.2L421.0 153.4L421.8 153.2L422.6 153.2L423.4 152.8L424.2 152.1L425.0 152.8L425.8 152.8L426.6 152.7L427.4 152.2L428.2 152.3L429.0 151.6L429.8 152.2L430.6 151.9L431.4 151.5L432.2 151.1L433.0 151.9L433.8 152.0L434.6 150.9L435.4 151.6L436.2 151.1L437.0 150.8L437.8 150.8L438.6 151.3L439.4 151.3L440.2 150.3L441.0 150.9L441.8 150.2L442.6 150.8L443.4 150.3L444.2 150.9L445.0 150.9L445.8 150.3L446.6 150.8L447.4 150.0L448.2 149.7L449.0 150.2L449.8 149.5L450.6 149.6L451.4 149.8L452.2 150.0L453.0 149.4L453.8 149.3L454.6 150.1L455.4 149.5L456.2 150.2L457.0 150.1L457.8 149.4L458.6 149.5L459.4 149.5L460.2 149.6L461.0 149.6L461.8 149.5L462.6 149.5L463.4 149.8L464.2 149.3L465.0 149.2L465.8 149.5L466.6 148.9L467.4 149.0L468.2 149.7L469.0 149.2L469.8 149.2L470.6 148.5L471.4 149.0L472.2 149.1L473.0 148.5L473.8 149.1L474.6 149.1L475.4 148.4L476.2 149.0L477.0 148.8L477.8 149.0" fill="none" stroke="#0cc40c" stroke-width="2.6" />
<path d="M380.3 171.0L380.3 170.8L380.4 170.6L380.4 170.3L380.4 170.0L380.5 169.7L380.6 169.4L380.7 169.0L380.8 168.7L380.9 168.3L381.1 168.0L381.3 167.7L381.6 167.4L381.9 167.0L382.2 166.7L382.6 166.4L383.0 166.0L383.3 165.7L383.7 165.4L384.1 165.2L384.4 164.9L384.7 164.7L385.1 164.4L385.5 164.2L385.8 164.0L386.2 163.9L386.6 163.7L386.9 163.5L387.2 163.4L387.4 163.3L387.6 163.2" fill="none" stroke="#9a66ff" stroke-width="1.9" />
<path d="M386.0 163.9L386.1 163.9L386.1 163.8L386.2 163.8L386.2 163.8L386.3 163.7L386.4 163.7L386.6 163.6L386.8 163.5L387.2 163.4L387.6 163.2L388.2 163.0L388.8 162.7L389.6 162.4L390.4 162.1L391.3 161.7L392.2 161.4L393.1 161.0L394.1 160.7L395.0 160.4L395.8 160.2L396.6 160.0L397.3 159.9L398.0 159.7L398.6 159.6L399.3 159.6L400.1 159.5L400.9 159.4L401.8 159.4L402.8 159.3L403.9 159.2L405.2 159.1L406.7 159.0L408.3 158.9L410.0 158.8L411.8 158.8L413.6 158.7L415.4 158.6L417.1 158.5L418.8 158.5L420.3 158.4L421.6 158.3L422.6 158.3L423.5 158.3L424.3 158.2L425.1 158.2L426.0 158.2L427.2 158.1L428.8 158.1L430.8 158.0L433.4 158.0L436.8 157.9L441.0 157.9L445.9 157.8L451.2 157.7L456.6 157.7L462.0 157.6L467.1 157.5L471.6 157.5L475.4 157.4L478.2 157.4" fill="none" stroke="#9a66ff" stroke-width="2.7" />
<path d="M384.4 164.8L385.2 164.5L386.0 164.1L386.8 163.2L387.6 162.8L388.4 163.1L389.2 163.1L390.0 161.9L390.8 161.8L391.6 161.7L392.4 161.0L393.2 160.7L394.0 160.3L394.8 160.2L395.6 160.5L396.4 159.6L397.2 159.6L398.0 160.4L398.8 158.5L399.6 159.7L400.4 160.0L401.2 158.9L402.0 158.7L402.8 160.0L403.6 158.6L404.4 158.4L405.2 159.0L406.0 159.5L406.8 158.1L407.6 158.5L408.4 158.5L409.2 159.7L410.0 158.7L410.8 159.7L411.6 158.0L412.4 158.3L413.2 159.1L414.0 159.6L414.8 158.5L415.6 157.9L416.4 157.7L417.2 158.6L418.0 157.8L418.8 159.2L419.6 159.2L420.4 157.6L421.2 157.8L422.0 159.1L422.8 158.6L423.6 159.0L424.4 157.8L425.2 157.3L426.0 157.7L426.8 158.8L427.6 157.6L428.4 157.7L429.2 157.9L430.0 157.9L430.8 157.8L431.6 159.0L432.4 157.2L433.2 156.8L434.0 159.1L434.8 158.9L435.6 159.1L436.4 157.8L437.2 159.0L438.0 159.0L438.8 157.2L439.6 158.5L440.4 158.7L441.2 158.3L442.0 157.9L442.8 157.4L443.6 157.5L444.4 157.2L445.2 156.8L446.0 158.0L446.8 157.3L447.6 158.5L448.4 156.7L449.2 158.7L450.0 158.2L450.8 158.8L451.6 158.7L452.4 158.7L453.2 157.9L454.0 156.5L454.8 158.3L455.6 156.9L456.4 157.2L457.2 158.1L458.0 157.7L458.8 157.4L459.6 158.7L460.4 157.9L461.2 157.2L462.0 157.0L462.8 158.5L463.6 157.5L464.4 158.3L465.2 157.2L466.0 156.8L466.8 157.6L467.6 158.3L468.4 156.7L469.2 158.2L470.0 158.5L470.8 158.2L471.6 158.3L472.4 156.3L473.2 157.8L474.0 158.3L474.8 156.4L475.6 156.9L476.4 156.9L477.2 157.5L478.0 157.2" fill="none" stroke="#9a66ff" stroke-width="2.3" />
<path d="M59.5 249V452.1H237.3" fill="none" stroke="#000" stroke-width="1.3"/>
<path d="M54.0 255.5H59.5M54.0 297.8H59.5M54.0 340.2H59.5M54.0 382.6H59.5M54.0 425H59.5M63.8 452.1V458.1M95.4 452.1V458.1M127 452.1V458.1M158.6 452.1V458.1M190.2 452.1V458.1M221.8 452.1V458.1" fill="none" stroke="#000" stroke-width="1.4"/>
<text x="52.0" y="259.1" text-anchor="end" class="tk">1.2</text>
<text x="52.0" y="301.40000000000003" text-anchor="end" class="tk">1.0</text>
<text x="52.0" y="343.8" text-anchor="end" class="tk">0.8</text>
<text x="52.0" y="386.20000000000005" text-anchor="end" class="tk">0.6</text>
<text x="52.0" y="428.6" text-anchor="end" class="tk">0.4</text>
<text x="63.8" y="470.90000000000003" text-anchor="middle" class="tk">0</text>
<text x="95.4" y="470.90000000000003" text-anchor="middle" class="tk">100</text>
<text x="127" y="470.90000000000003" text-anchor="middle" class="tk">200</text>
<text x="158.6" y="470.90000000000003" text-anchor="middle" class="tk">300</text>
<text x="190.2" y="470.90000000000003" text-anchor="middle" class="tk">400</text>
<text x="221.8" y="470.90000000000003" text-anchor="middle" class="tk">500</text>
<text x="0.3" y="260.9" class="pl">b</text>
<text transform="translate(28.2,395.2) rotate(-90)" class="al" textLength="109.2" lengthAdjust="spacingAndGlyphs">Ramsey contrast</text>
<text x="73.2" y="485.4" class="xl" textLength="156" lengthAdjust="spacingAndGlyphs">Pump-probe delay τ (ps)</text>
<path d="M82.5 270.2V313.2M79.6 270.2h5.8M79.6 313.2h5.8M78.0 290.0V327.5M75.1 290.0h5.8M75.1 327.5h5.8M84.2 295.0V335.0M81.3 295.0h5.8M81.3 335.0h5.8M80.5 312.5V342.5M77.6 312.5h5.8M77.6 342.5h5.8M76.3 324.2V351.4M73.4 324.2h5.8M73.4 351.4h5.8M80.9 315.8V340.9M78.0 315.8h5.8M78.0 340.9h5.8M79.3 335.1V356.0M76.4 335.1h5.8M76.4 356.0h5.8M87.2 332.1V355.2M84.3 332.1h5.8M84.3 355.2h5.8M85.6 350.4V375.5M82.7 350.4h5.8M82.7 375.5h5.8M90.8 339.9V369.2M87.9 339.9h5.8M87.9 369.2h5.8M92.5 350.0V379.3M89.6 350.0h5.8M89.6 379.3h5.8M95.6 352.5V377.6M92.7 352.5h5.8M92.7 377.6h5.8M98.8 334.7V359.8M95.9 334.7h5.8M95.9 359.8h5.8M101.9 342.0V367.1M99.0 342.0h5.8M99.0 367.1h5.8M104.4 328.4V359.8M101.5 328.4h5.8M101.5 359.8h5.8M103.4 362.9V392.3M100.5 362.9h5.8M100.5 392.3h5.8M106.1 360.8V381.8M103.2 360.8h5.8M103.2 381.8h5.8M108.2 352.5V373.4M105.3 352.5h5.8M105.3 373.4h5.8M109.6 322.1V359.8M106.7 322.1h5.8M106.7 359.8h5.8M111.3 351.4V372.4M108.4 351.4h5.8M108.4 372.4h5.8M112.8 342.0V362.9M109.9 342.0h5.8M109.9 362.9h5.8M114.5 355.6V376.6M111.6 355.6h5.8M111.6 376.6h5.8M115.5 367.8V397.1M112.6 367.8h5.8M112.6 397.1h5.8M117.6 324.8V356.2M114.7 324.8h5.8M114.7 356.2h5.8M118.2 374.5V399.6M115.3 374.5h5.8M115.3 399.6h5.8M120.7 373.0V400.2M117.8 373.0h5.8M117.8 400.2h5.8M123.5 352.5V375.5M120.6 352.5h5.8M120.6 375.5h5.8M125.4 342.0V377.6M122.5 342.0h5.8M122.5 377.6h5.8M127.0 344.5V367.5M124.1 344.5h5.8M124.1 367.5h5.8M128.5 368.2V395.4M125.6 368.2h5.8M125.6 395.4h5.8M131.8 393.3V416.4M128.9 393.3h5.8M128.9 416.4h5.8M135.4 357.7V387.0M132.5 357.7h5.8M132.5 387.0h5.8M138.6 378.7V403.8M135.7 378.7h5.8M135.7 403.8h5.8M139.6 376.6V399.6M136.7 376.6h5.8M136.7 399.6h5.8M142.1 364.7V387.7M139.2 364.7h5.8M139.2 387.7h5.8M141.0 377.2V406.6M138.1 377.2h5.8M138.1 406.6h5.8M144.2 373.0V410.7M141.3 373.0h5.8M141.3 410.7h5.8M149.4 348.5V377.9M146.5 348.5h5.8M146.5 377.9h5.8M151.9 362.6V383.5M149.0 362.6h5.8M149.0 383.5h5.8M155.1 365.7V392.9M152.2 365.7h5.8M152.2 392.9h5.8M158.4 380.0V409.3M155.5 380.0h5.8M155.5 409.3h5.8M161.6 363.6V392.9M158.7 363.6h5.8M158.7 392.9h5.8M164.1 387.7V412.8M161.2 387.7h5.8M161.2 412.8h5.8M166.2 389.8V414.9M163.3 389.8h5.8M163.3 414.9h5.8M168.3 386.7V403.4M165.4 386.7h5.8M165.4 403.4h5.8M171.0 408.7V425.4M168.1 408.7h5.8M168.1 425.4h5.8M173.5 401.3V420.2M170.6 401.3h5.8M170.6 420.2h5.8M177.3 387.7V417.0M174.4 387.7h5.8M174.4 417.0h5.8M180.8 381.4V410.7M177.9 381.4h5.8M177.9 410.7h5.8M183.4 398.2V421.2M180.5 398.2h5.8M180.5 421.2h5.8M185.0 384.6V413.9M182.1 384.6h5.8M182.1 413.9h5.8M187.1 376.2V405.5M184.2 376.2h5.8M184.2 405.5h5.8M190.3 403.0V430.2M187.4 403.0h5.8M187.4 430.2h5.8M191.7 414.9V431.7M188.8 414.9h5.8M188.8 431.7h5.8M194.9 386.0V411.2M192.0 386.0h5.8M192.0 411.2h5.8M196.6 394.0V419.1M193.7 394.0h5.8M193.7 419.1h5.8M198.7 392.9V411.8M195.8 392.9h5.8M195.8 411.8h5.8M201.4 414.9V429.6M198.5 414.9h5.8M198.5 429.6h5.8M203.9 377.2V400.3M201.0 377.2h5.8M201.0 400.3h5.8M206.0 392.9V420.2M203.1 392.9h5.8M203.1 420.2h5.8M209.1 391.5V420.8M206.2 391.5h5.8M206.2 420.8h5.8M212.3 413.9V432.7M209.4 413.9h5.8M209.4 432.7h5.8M215.4 371.4V402.8M212.5 371.4h5.8M212.5 402.8h5.8M217.1 397.5V424.8M214.2 397.5h5.8M214.2 424.8h5.8M218.6 418.1V436.9M215.7 418.1h5.8M215.7 436.9h5.8M221.7 403.4V430.6M218.8 403.4h5.8M218.8 430.6h5.8M223.4 422.3V448.2M220.5 422.3h5.8M220.5 448.2h5.8M224.8 400.3V425.4M221.9 400.3h5.8M221.9 425.4h5.8M226.9 389.8V417.0M224.0 389.8h5.8M224.0 417.0h5.8" fill="none" stroke="#2458ff" stroke-width="1.5"/>
<circle cx="82.5" cy="291.8" r="2.75" fill="#0a3cf0"/>
<circle cx="78.0" cy="308.8" r="2.75" fill="#0a3cf0"/>
<circle cx="84.2" cy="315.0" r="2.75" fill="#0a3cf0"/>
<circle cx="80.5" cy="327.5" r="2.75" fill="#0a3cf0"/>
<circle cx="76.3" cy="337.8" r="2.75" fill="#0a3cf0"/>
<circle cx="80.9" cy="328.4" r="2.75" fill="#0a3cf0"/>
<circle cx="79.3" cy="345.6" r="2.75" fill="#0a3cf0"/>
<circle cx="87.2" cy="343.7" r="2.75" fill="#0a3cf0"/>
<circle cx="85.6" cy="362.9" r="2.75" fill="#0a3cf0"/>
<circle cx="90.8" cy="354.6" r="2.75" fill="#0a3cf0"/>
<circle cx="92.5" cy="364.6" r="2.75" fill="#0a3cf0"/>
<circle cx="95.6" cy="365.0" r="2.75" fill="#0a3cf0"/>
<circle cx="98.8" cy="347.2" r="2.75" fill="#0a3cf0"/>
<circle cx="101.9" cy="354.6" r="2.75" fill="#0a3cf0"/>
<circle cx="104.4" cy="344.1" r="2.75" fill="#0a3cf0"/>
<circle cx="103.4" cy="377.6" r="2.75" fill="#0a3cf0"/>
<circle cx="106.1" cy="371.3" r="2.75" fill="#0a3cf0"/>
<circle cx="108.2" cy="362.9" r="2.75" fill="#0a3cf0"/>
<circle cx="109.6" cy="340.9" r="2.75" fill="#0a3cf0"/>
<circle cx="111.3" cy="361.9" r="2.75" fill="#0a3cf0"/>
<circle cx="112.8" cy="352.5" r="2.75" fill="#0a3cf0"/>
<circle cx="114.5" cy="366.1" r="2.75" fill="#0a3cf0"/>
<circle cx="115.5" cy="382.4" r="2.75" fill="#0a3cf0"/>
<circle cx="117.6" cy="340.5" r="2.75" fill="#0a3cf0"/>
<circle cx="118.2" cy="387.0" r="2.75" fill="#0a3cf0"/>
<circle cx="120.7" cy="386.6" r="2.75" fill="#0a3cf0"/>
<circle cx="123.5" cy="364.0" r="2.75" fill="#0a3cf0"/>
<circle cx="125.4" cy="359.8" r="2.75" fill="#0a3cf0"/>
<circle cx="127.0" cy="356.0" r="2.75" fill="#0a3cf0"/>
<circle cx="128.5" cy="381.8" r="2.75" fill="#0a3cf0"/>
<circle cx="131.8" cy="404.8" r="2.75" fill="#0a3cf0"/>
<circle cx="135.4" cy="372.4" r="2.75" fill="#0a3cf0"/>
<circle cx="138.6" cy="391.2" r="2.75" fill="#0a3cf0"/>
<circle cx="139.6" cy="388.1" r="2.75" fill="#0a3cf0"/>
<circle cx="142.1" cy="376.2" r="2.75" fill="#0a3cf0"/>
<circle cx="141.0" cy="391.9" r="2.75" fill="#0a3cf0"/>
<circle cx="144.2" cy="391.9" r="2.75" fill="#0a3cf0"/>
<circle cx="149.4" cy="363.2" r="2.75" fill="#0a3cf0"/>
<circle cx="151.9" cy="373.0" r="2.75" fill="#0a3cf0"/>
<circle cx="155.1" cy="379.3" r="2.75" fill="#0a3cf0"/>
<circle cx="158.4" cy="394.6" r="2.75" fill="#0a3cf0"/>
<circle cx="161.6" cy="378.3" r="2.75" fill="#0a3cf0"/>
<circle cx="164.1" cy="400.3" r="2.75" fill="#0a3cf0"/>
<circle cx="166.2" cy="402.4" r="2.75" fill="#0a3cf0"/>
<circle cx="168.3" cy="395.0" r="2.75" fill="#0a3cf0"/>
<circle cx="171.0" cy="417.0" r="2.75" fill="#0a3cf0"/>
<circle cx="173.5" cy="410.7" r="2.75" fill="#0a3cf0"/>
<circle cx="177.3" cy="402.4" r="2.75" fill="#0a3cf0"/>
<circle cx="180.8" cy="396.1" r="2.75" fill="#0a3cf0"/>
<circle cx="183.4" cy="409.7" r="2.75" fill="#0a3cf0"/>
<circle cx="185.0" cy="399.2" r="2.75" fill="#0a3cf0"/>
<circle cx="187.1" cy="390.8" r="2.75" fill="#0a3cf0"/>
<circle cx="190.3" cy="416.6" r="2.75" fill="#0a3cf0"/>
<circle cx="191.7" cy="423.3" r="2.75" fill="#0a3cf0"/>
<circle cx="194.9" cy="398.6" r="2.75" fill="#0a3cf0"/>
<circle cx="196.6" cy="406.6" r="2.75" fill="#0a3cf0"/>
<circle cx="198.7" cy="402.4" r="2.75" fill="#0a3cf0"/>
<circle cx="201.4" cy="422.3" r="2.75" fill="#0a3cf0"/>
<circle cx="203.9" cy="388.8" r="2.75" fill="#0a3cf0"/>
<circle cx="206.0" cy="406.6" r="2.75" fill="#0a3cf0"/>
<circle cx="209.1" cy="406.1" r="2.75" fill="#0a3cf0"/>
<circle cx="212.3" cy="423.3" r="2.75" fill="#0a3cf0"/>
<circle cx="215.4" cy="387.1" r="2.75" fill="#0a3cf0"/>
<circle cx="217.1" cy="411.2" r="2.75" fill="#0a3cf0"/>
<circle cx="218.6" cy="427.5" r="2.75" fill="#0a3cf0"/>
<circle cx="221.7" cy="417.0" r="2.75" fill="#0a3cf0"/>
<circle cx="223.4" cy="435.3" r="2.75" fill="#0a3cf0"/>
<circle cx="224.8" cy="412.8" r="2.75" fill="#0a3cf0"/>
<circle cx="226.9" cy="403.4" r="2.75" fill="#0a3cf0"/>
<path d="M63.8 297.6L63.9 297.6L64.0 297.6L64.2 297.6L64.3 297.6L64.5 297.7L64.7 297.7L64.8 297.7L65.0 297.7L65.2 297.7L65.5 297.7L65.7 297.7L65.9 297.8L66.2 297.8L66.4 297.8L66.7 297.9L66.9 297.9L67.2 298.0L67.4 298.0L67.7 298.1L68.0 298.2L68.3 298.3L68.6 298.3L68.9 298.4L69.2 298.5L69.5 298.5L69.8 298.6L70.1 298.6L70.5 298.7L70.8 298.8L71.1 298.8L71.5 298.9L71.8 299.1L72.2 299.2L72.6 299.4L72.9 299.5M78.7 305.2L78.9 305.6L79.5 306.3L80.0 307.0L80.5 307.7L81.1 308.4L81.6 309.2L82.1 309.9L82.6 310.6L83.1 311.3L83.6 311.9L84.1 312.6L84.2 312.7M89.2 319.1L89.5 319.4L89.8 319.8L90.1 320.3L90.5 320.8L90.8 321.3L91.2 321.8L91.6 322.4L92.0 323.0L92.4 323.6L92.9 324.3L93.3 325.0L93.8 325.8L94.3 326.5L94.4 326.8M98.7 333.8L98.8 334.0L99.3 334.9L99.8 335.7L100.4 336.5L100.9 337.3L101.4 338.1L101.9 338.9L102.4 339.7L102.9 340.4L103.4 341.2L103.8 341.6M108.5 348.3L108.7 348.5L109.2 349.2L109.8 350.0L110.3 350.7L110.8 351.4L111.4 352.1L111.9 352.8L112.4 353.5L112.9 354.2L113.4 354.9L114.0 355.6L114.1 355.8M119.0 362.3L119.2 362.5L119.7 363.2L120.2 363.9L120.7 364.5L121.2 365.2L121.8 365.8L122.3 366.5L122.8 367.1L123.3 367.7L123.8 368.3L124.3 368.9L124.8 369.6L124.8 369.6M130.3 375.7L130.4 375.8L130.9 376.4L131.5 376.9L132.1 377.5L132.7 378.1L133.3 378.6L133.9 379.2L134.6 379.7L135.3 380.2L135.9 380.8L136.6 381.3L137.3 381.8M144.0 386.6L144.1 386.6L144.9 387.2L145.6 387.6L146.4 388.1L147.2 388.6L148.0 389.1L148.8 389.6L149.6 390.0L150.4 390.5L151.2 390.9L151.9 391.4M159.2 395.1L159.5 395.2L160.3 395.6L161.2 396.0L162.1 396.4L162.9 396.8L163.8 397.1L164.7 397.5L165.6 397.9L166.5 398.2L167.4 398.6L167.8 398.7M175.6 401.3L175.8 401.4L176.7 401.7L177.7 402.0L178.6 402.3L179.6 402.6L180.6 402.9L181.6 403.2L182.6 403.5L183.6 403.8L184.4 404.1M192.3 406.4L192.9 406.6L193.9 406.9L195.0 407.2L196.1 407.5L197.1 407.8L198.2 408.1L199.3 408.4L200.4 408.7L201.2 409.0M209.2 411.1L210.2 411.4L211.6 411.8L213.0 412.2L214.5 412.5L216.0 412.9L217.4 413.3L218.1 413.5M221.4 414.4L221.7 414.4L223.0 414.8L224.3 415.1L225.5 415.4L226.6 415.7L227.7 416.0L228.6 416.2L229.4 416.4L230.1 416.6" fill="none" stroke="#f01020" stroke-width="2.5"/>
<path d="M63.4 297.9L63.5 302.5L64.2 304.4L66.0 304.7L237.3 304.8" fill="none" stroke="#ff5a20" stroke-width="2.1" />
<path d="M63.4 297.9L63.4 298.0L63.5 298.1L63.6 298.3L63.6 298.5L63.7 298.7L63.8 298.9L63.9 299.1L64.0 299.3L64.1 299.4L64.2 299.6L64.3 299.7L64.4 299.9L64.5 300.0L64.6 300.2L64.8 300.3L64.9 300.4L65.0 300.5L65.2 300.7L65.4 300.8L65.6 300.9L65.8 301.0L66.1 301.1L66.3 301.3L66.6 301.4L66.9 301.5L67.2 301.6L67.6 301.7L67.9 301.8L68.3 301.9L68.7 302.0L69.1 302.1L69.5 302.2L69.9 302.3L70.4 302.3L70.9 302.4L71.4 302.5L71.9 302.5L72.5 302.6L73.2 302.6L74.0 302.7L74.2 302.7L73.6 302.8L72.4 302.8L71.2 302.9L70.3 302.9L70.2 302.9L71.1 302.9L73.7 303.0L78.2 303.0L85.0 303.0L95.2 303.0L108.9 303.0L125.1 303.1L143.1 303.1L161.8 303.1L180.6 303.1L198.4 303.2L214.3 303.2L227.6 303.2L237.3 303.2" fill="none" stroke="#ffa434" stroke-width="1.9" />
<rect x="166" y="306" width="106" height="74" fill="#fff" opacity="0"/>
<path d="M172.6 309.5V363.3H262.6" fill="none" stroke="#000" stroke-width="1.45"/>
<path d="M167.8 310.3H172.6M167.8 324.2H172.6M167.8 338.2H172.6M167.8 352.2H172.6M169.9 317.2H172.6M169.9 331.2H172.6M169.9 345.2H172.6M169.9 359H172.6M176.2 363.3v4.8M191.7 363.3v4.8M207.2 363.3v4.8M222.7 363.3v4.8M238.2 363.3v4.8M253.7 363.3v4.8" fill="none" stroke="#000" stroke-width="1.2"/>
<text x="165.4" y="312.6" text-anchor="end" class="it">1.00</text>
<text x="165.4" y="326.5" text-anchor="end" class="it">0.99</text>
<text x="165.4" y="340.5" text-anchor="end" class="it">0.98</text>
<text x="165.4" y="354.5" text-anchor="end" class="it">0.97</text>
<text x="176.2" y="376.2" text-anchor="middle" class="it">0</text>
<text x="191.7" y="376.2" text-anchor="middle" class="it">100</text>
<text x="207.2" y="376.2" text-anchor="middle" class="it">200</text>
<text x="222.7" y="376.2" text-anchor="middle" class="it">300</text>
<text x="238.2" y="376.2" text-anchor="middle" class="it">400</text>
<text x="253.7" y="376.2" text-anchor="middle" class="it">500</text>
<path d="M176.2 356.5H262.6" fill="none" stroke="#555" stroke-width="1.9" stroke-dasharray="6.6 1.9 1.9 1.9"/>
<path d="M176.2 310.3L176.2 310.7L176.2 311.2L176.2 311.7L176.3 312.4L176.3 313.0L176.3 313.7L176.3 314.5L176.4 315.3L176.4 316.1L176.4 317.0L176.4 317.8L176.5 318.7L176.5 319.5L176.5 320.4L176.6 321.2L176.6 322.1L176.7 322.9L176.7 323.6L176.7 324.3L176.8 325.0L176.9 325.6L176.9 326.3L176.9 326.9L177.0 327.5L177.0 328.1L177.1 328.7L177.1 329.3L177.2 329.9L177.2 330.5L177.3 331.0L177.3 331.6L177.4 332.1L177.5 332.6L177.5 333.2L177.6 333.7L177.7 334.2L177.9 334.6L178.0 335.1L178.1 335.6L178.3 336.0L178.5 336.4L178.7 336.8L178.8 337.2L179.1 337.6L179.3 338.0L179.5 338.3L179.7 338.7L180.0 339.0L180.2 339.3L180.5 339.6L180.7 339.9L181.0 340.2L181.3 340.5L181.6 340.8L181.9 341.1L182.2 341.3L182.5 341.6L182.8 341.9L183.2 342.1L183.5 342.4L183.8 342.7L184.2 342.9L184.5 343.2L184.8 343.4L185.1 343.6L185.4 343.9L185.7 344.1L186.0 344.3L186.4 344.5L186.7 344.7L187.1 344.9L187.5 345.1L187.9 345.3L188.4 345.5L188.8 345.7L189.4 345.9L189.9 346.1L190.5 346.2L191.2 346.4L191.9 346.6L192.7 346.8L193.5 347.0L194.4 347.1L195.3 347.3L196.2 347.5L197.2 347.7L198.3 347.8L199.4 348.0L200.4 348.2L201.6 348.3L202.7 348.5L203.8 348.6L205.0 348.8L206.1 348.9L207.3 349.1L208.4 349.2L209.5 349.3L210.6 349.5L211.7 349.6L212.8 349.7L213.8 349.8L214.9 349.9L215.9 350.0L216.9 350.1L217.9 350.2L218.9 350.3L219.8 350.4L220.8 350.4L221.8 350.5L222.8 350.6L223.8 350.7L224.8 350.7L225.9 350.8L226.9 350.9L228.0 350.9L229.1 351.0L230.2 351.0L231.4 351.1L232.6 351.1L233.8 351.2L235.1 351.3L236.5 351.3L238.0 351.4L239.5 351.4L241.1 351.5L242.7 351.5L244.4 351.6L246.1 351.6L247.8 351.7L249.5 351.7L251.1 351.7L252.7 351.8L254.3 351.8L255.8 351.8L257.2 351.9L258.5 351.9L259.7 351.9L260.8 352.0L261.7 352.0L262.5 352.0" fill="none" stroke="#ffa510" stroke-width="2.7" />
<path d="M176.2 310.3L176.2 310.8L176.2 311.5L176.2 312.2L176.2 313.0L176.2 313.9L176.3 314.9L176.3 315.9L176.3 316.9L176.3 318.0L176.3 319.1L176.3 320.2L176.3 321.4L176.4 322.5L176.4 323.7L176.4 324.8L176.4 325.9L176.4 327.0L176.5 328.1L176.5 329.1L176.5 330.0L176.5 330.9L176.5 331.8L176.5 332.8L176.6 333.7L176.6 334.6L176.6 335.6L176.6 336.5L176.6 337.4L176.6 338.3L176.6 339.2L176.6 340.1L176.6 340.9L176.7 341.7L176.7 342.5L176.8 343.3L176.8 344.0L176.9 344.7L177.0 345.4L177.1 346.0L177.2 346.6L177.3 347.1L177.4 347.6L177.6 348.1L177.7 348.5L177.9 348.9L178.0 349.2L178.2 349.5L178.3 349.8L178.5 350.1L178.7 350.3L178.9 350.6L179.1 350.8L179.3 351.0L179.6 351.2L179.8 351.3L180.1 351.5L180.4 351.7L180.7 351.8L181.0 352.0L181.4 352.2L181.8 352.4L182.1 352.5L182.5 352.7L182.8 352.8L183.2 352.9L183.5 353.0L183.9 353.1L184.3 353.2L184.7 353.3L185.2 353.3L185.6 353.4L186.1 353.5L186.7 353.5L187.3 353.6L187.9 353.6L188.6 353.7L189.3 353.7L190.1 353.8L191.0 353.8L191.9 353.9L192.9 354.0L193.9 354.0L195.0 354.1L196.2 354.1L197.3 354.2L198.6 354.2L199.9 354.3L201.2 354.3L202.5 354.4L204.0 354.4L205.4 354.5L206.9 354.5L208.4 354.5L210.0 354.6L211.6 354.6L213.2 354.7L214.8 354.7L216.5 354.7L218.2 354.8L220.0 354.8L221.9 354.8L223.9 354.9L226.0 354.9L228.3 354.9L230.6 355.0L233.0 355.0L235.5 355.1L238.0 355.1L240.5 355.1L243.0 355.2L245.5 355.2L247.9 355.2L250.2 355.2L252.4 355.3L254.5 355.3L256.5 355.3L258.3 355.3L259.9 355.4L261.3 355.4L262.5 355.4" fill="none" stroke="#ff4a10" stroke-width="2.7" />
<path d="M200.9 316.2H217.4" stroke="#ffa510" stroke-width="2.4"/>
<path d="M200.9 328.8H217.4" stroke="#ff4a10" stroke-width="2.4"/>
<text x="221.8" y="318.8" class="lg" textLength="45.8" lengthAdjust="spacingAndGlyphs">C<tspan dy="2.2" font-size="4.2">6</tspan><tspan dy="-2.2">=2GHzµm</tspan><tspan dy="-3.0" font-size="4.2">6</tspan></text>
<text x="221.8" y="331.4" class="lg" textLength="49.7" lengthAdjust="spacingAndGlyphs">C<tspan dy="2.2" font-size="4.2">6</tspan><tspan dy="-2.2">=50GHzµm</tspan><tspan dy="-3.0" font-size="4.2">6</tspan></text>
<path d="M356 249V452.5H533.5" fill="none" stroke="#000" stroke-width="1.3"/>
<path d="M350.5 289.5H356M350.5 342.5H356M350.5 395.5H356M350.5 448.5H356M359.7 452.5V458.5M391.3 452.5V458.5M422.9 452.5V458.5M454.5 452.5V458.5M486.1 452.5V458.5M517.7 452.5V458.5" fill="none" stroke="#000" stroke-width="1.4"/>
<text x="348.5" y="293.1" text-anchor="end" class="tk">20</text>
<text x="348.5" y="346.1" text-anchor="end" class="tk">0</text>
<text x="348.5" y="399.1" text-anchor="end" class="tk">-20</text>
<text x="348.5" y="452.1" text-anchor="end" class="tk">-40</text>
<text x="359.7" y="470.7" text-anchor="middle" class="tk">0</text>
<text x="391.3" y="470.7" text-anchor="middle" class="tk">100</text>
<text x="422.9" y="470.7" text-anchor="middle" class="tk">200</text>
<text x="454.5" y="470.7" text-anchor="middle" class="tk">300</text>
<text x="486.1" y="470.7" text-anchor="middle" class="tk">400</text>
<text x="517.7" y="470.7" text-anchor="middle" class="tk">500</text>
<text x="294.4" y="260.9" class="pl">d</text>
<text transform="translate(321,410.7) rotate(-90)" class="al" textLength="140.2" lengthAdjust="spacingAndGlyphs">Phase shift (degrees)</text>
<text x="366.5" y="485.4" class="xl" textLength="156" lengthAdjust="spacingAndGlyphs">Pump-probe delay τ (ps)</text>
<path d="M378.5 261.8V290.8M375.6 261.8h5.8M375.6 290.8h5.8M372.2 285.5V310.5M369.4 285.5h5.8M369.4 310.5h5.8M374.2 305.5V334.5M371.4 305.5h5.8M371.4 334.5h5.8M376.0 282.5V302.5M373.1 282.5h5.8M373.1 302.5h5.8M376.5 296.2V316.2M373.6 296.2h5.8M373.6 316.2h5.8M381.0 268.8V288.8M378.1 268.8h5.8M378.1 288.8h5.8M382.2 280.0V300.0M379.4 280.0h5.8M379.4 300.0h5.8M384.0 290.0V312.5M381.1 290.0h5.8M381.1 312.5h5.8M387.2 283.0V318.0M384.4 283.0h5.8M384.4 318.0h5.8M389.0 286.8V314.2M386.1 286.8h5.8M386.1 314.2h5.8M391.8 296.8V324.2M388.9 296.8h5.8M388.9 324.2h5.8M394.8 312.5V340.0M391.9 312.5h5.8M391.9 340.0h5.8M397.2 313.8V341.2M394.4 313.8h5.8M394.4 341.2h5.8M401.0 290.5V318.0M398.1 290.5h5.8M398.1 318.0h5.8M403.5 309.2V336.8M400.6 309.2h5.8M400.6 336.8h5.8M405.2 315.0V337.5M402.4 315.0h5.8M402.4 337.5h5.8M407.2 330.5V355.5M404.4 330.5h5.8M404.4 355.5h5.8M409.0 305.8V330.8M406.1 305.8h5.8M406.1 330.8h5.8M410.5 311.2V338.8M407.6 311.2h5.8M407.6 338.8h5.8M411.5 291.2V326.2M408.6 291.2h5.8M408.6 326.2h5.8M413.5 328.8V356.2M410.6 328.8h5.8M410.6 356.2h5.8M414.8 290.0V320.0M411.9 290.0h5.8M411.9 320.0h5.8M416.8 320.0V345.0M413.9 320.0h5.8M413.9 345.0h5.8M420.2 290.0V325.0M417.4 290.0h5.8M417.4 325.0h5.8M421.8 310.5V335.5M418.9 310.5h5.8M418.9 335.5h5.8M424.0 284.5V319.5M421.1 284.5h5.8M421.1 319.5h5.8M426.0 290.0V315.0M423.1 290.0h5.8M423.1 315.0h5.8M428.0 305.8V330.8M425.1 305.8h5.8M425.1 330.8h5.8M431.0 333.2V370.8M428.1 333.2h5.8M428.1 370.8h5.8M434.2 288.3V321.0M431.3 288.3h5.8M431.3 321.0h5.8M435.7 309.2V340.6M432.8 309.2h5.8M432.8 340.6h5.8M437.8 314.5V343.8M434.9 314.5h5.8M434.9 343.8h5.8M439.3 304.0V345.9M436.4 304.0h5.8M436.4 345.9h5.8M442.0 320.7V343.8M439.1 320.7h5.8M439.1 343.8h5.8M445.1 314.5V362.6M442.2 314.5h5.8M442.2 362.6h5.8M448.3 329.1V364.7M445.4 329.1h5.8M445.4 364.7h5.8M451.4 339.6V362.6M448.5 339.6h5.8M448.5 362.6h5.8M454.6 288.3V325.1M451.7 288.3h5.8M451.7 325.1h5.8M457.7 308.8V346.5M454.8 308.8h5.8M454.8 346.5h5.8M460.8 300.4V340.2M457.9 300.4h5.8M457.9 340.2h5.8M459.4 349.0V374.2M456.5 349.0h5.8M456.5 374.2h5.8M464.0 329.8V361.2M461.1 329.8h5.8M461.1 361.2h5.8M467.1 327.0V356.4M464.2 327.0h5.8M464.2 356.4h5.8M470.3 343.4V368.5M467.4 343.4h5.8M467.4 368.5h5.8M473.4 318.2V364.3M470.5 318.2h5.8M470.5 364.3h5.8M476.6 268.0V312.8M473.7 268.0h5.8M473.7 312.8h5.8M479.7 307.8V345.5M476.8 307.8h5.8M476.8 345.5h5.8M481.2 314.5V352.2M478.3 314.5h5.8M478.3 352.2h5.8M482.8 317.6V355.3M479.9 317.6h5.8M479.9 355.3h5.8M486.0 319.7V365.8M483.1 319.7h5.8M483.1 365.8h5.8M488.1 319.7V351.1M485.2 319.7h5.8M485.2 351.1h5.8M491.2 314.5V345.9M488.3 314.5h5.8M488.3 345.9h5.8M492.3 338.6V363.7M489.4 338.6h5.8M489.4 363.7h5.8M494.4 320.7V350.1M491.5 320.7h5.8M491.5 350.1h5.8M497.1 330.8V358.0M494.2 330.8h5.8M494.2 358.0h5.8M499.2 286.2V316.3M496.3 286.2h5.8M496.3 316.3h5.8M504.8 305.7V347.6M501.9 305.7h5.8M501.9 347.6h5.8M508.0 329.8V365.4M505.1 329.8h5.8M505.1 365.4h5.8M511.5 283.7V323.5M508.6 283.7h5.8M508.6 323.5h5.8M513.2 318.2V360.1M510.3 318.2h5.8M510.3 360.1h5.8M515.3 320.7V358.4M512.4 320.7h5.8M512.4 358.4h5.8M517.4 324.9V356.4M514.5 324.9h5.8M514.5 356.4h5.8M519.5 324.5V353.8M516.6 324.5h5.8M516.6 353.8h5.8M521.0 284.1V340.6M518.1 284.1h5.8M518.1 340.6h5.8M522.6 337.5V375.2M519.7 337.5h5.8M519.7 375.2h5.8M501.8 392.2V433.8M498.9 392.2h5.8M498.9 433.8h5.8" fill="none" stroke="#2458ff" stroke-width="1.5"/>
<circle cx="378.5" cy="276.2" r="2.75" fill="#0a3cf0"/>
<circle cx="372.2" cy="298.0" r="2.75" fill="#0a3cf0"/>
<circle cx="374.2" cy="320.0" r="2.75" fill="#0a3cf0"/>
<circle cx="376.0" cy="292.5" r="2.75" fill="#0a3cf0"/>
<circle cx="376.5" cy="306.2" r="2.75" fill="#0a3cf0"/>
<circle cx="381.0" cy="278.8" r="2.75" fill="#0a3cf0"/>
<circle cx="382.2" cy="290.0" r="2.75" fill="#0a3cf0"/>
<circle cx="384.0" cy="301.2" r="2.75" fill="#0a3cf0"/>
<circle cx="387.2" cy="300.5" r="2.75" fill="#0a3cf0"/>
<circle cx="389.0" cy="300.5" r="2.75" fill="#0a3cf0"/>
<circle cx="391.8" cy="310.5" r="2.75" fill="#0a3cf0"/>
<circle cx="394.8" cy="326.2" r="2.75" fill="#0a3cf0"/>
<circle cx="397.2" cy="327.5" r="2.75" fill="#0a3cf0"/>
<circle cx="401.0" cy="304.2" r="2.75" fill="#0a3cf0"/>
<circle cx="403.5" cy="323.0" r="2.75" fill="#0a3cf0"/>
<circle cx="405.2" cy="326.2" r="2.75" fill="#0a3cf0"/>
<circle cx="407.2" cy="343.0" r="2.75" fill="#0a3cf0"/>
<circle cx="409.0" cy="318.2" r="2.75" fill="#0a3cf0"/>
<circle cx="410.5" cy="325.0" r="2.75" fill="#0a3cf0"/>
<circle cx="411.5" cy="308.8" r="2.75" fill="#0a3cf0"/>
<circle cx="413.5" cy="342.5" r="2.75" fill="#0a3cf0"/>
<circle cx="414.8" cy="305.0" r="2.75" fill="#0a3cf0"/>
<circle cx="416.8" cy="332.5" r="2.75" fill="#0a3cf0"/>
<circle cx="420.2" cy="307.5" r="2.75" fill="#0a3cf0"/>
<circle cx="421.8" cy="323.0" r="2.75" fill="#0a3cf0"/>
<circle cx="424.0" cy="302.0" r="2.75" fill="#0a3cf0"/>
<circle cx="426.0" cy="302.5" r="2.75" fill="#0a3cf0"/>
<circle cx="428.0" cy="318.2" r="2.75" fill="#0a3cf0"/>
<circle cx="431.0" cy="352.0" r="2.75" fill="#0a3cf0"/>
<circle cx="434.2" cy="304.6" r="2.75" fill="#0a3cf0"/>
<circle cx="435.7" cy="324.9" r="2.75" fill="#0a3cf0"/>
<circle cx="437.8" cy="329.1" r="2.75" fill="#0a3cf0"/>
<circle cx="439.3" cy="324.9" r="2.75" fill="#0a3cf0"/>
<circle cx="442.0" cy="332.3" r="2.75" fill="#0a3cf0"/>
<circle cx="445.1" cy="338.6" r="2.75" fill="#0a3cf0"/>
<circle cx="448.3" cy="346.9" r="2.75" fill="#0a3cf0"/>
<circle cx="451.4" cy="351.1" r="2.75" fill="#0a3cf0"/>
<circle cx="454.6" cy="306.7" r="2.75" fill="#0a3cf0"/>
<circle cx="457.7" cy="327.7" r="2.75" fill="#0a3cf0"/>
<circle cx="460.8" cy="320.3" r="2.75" fill="#0a3cf0"/>
<circle cx="459.4" cy="361.6" r="2.75" fill="#0a3cf0"/>
<circle cx="464.0" cy="345.5" r="2.75" fill="#0a3cf0"/>
<circle cx="467.1" cy="341.7" r="2.75" fill="#0a3cf0"/>
<circle cx="470.3" cy="355.9" r="2.75" fill="#0a3cf0"/>
<circle cx="473.4" cy="341.3" r="2.75" fill="#0a3cf0"/>
<circle cx="476.6" cy="290.4" r="2.75" fill="#0a3cf0"/>
<circle cx="479.7" cy="326.6" r="2.75" fill="#0a3cf0"/>
<circle cx="481.2" cy="333.3" r="2.75" fill="#0a3cf0"/>
<circle cx="482.8" cy="336.5" r="2.75" fill="#0a3cf0"/>
<circle cx="486.0" cy="342.7" r="2.75" fill="#0a3cf0"/>
<circle cx="488.1" cy="335.4" r="2.75" fill="#0a3cf0"/>
<circle cx="491.2" cy="330.2" r="2.75" fill="#0a3cf0"/>
<circle cx="492.3" cy="351.1" r="2.75" fill="#0a3cf0"/>
<circle cx="494.4" cy="335.4" r="2.75" fill="#0a3cf0"/>
<circle cx="497.1" cy="344.4" r="2.75" fill="#0a3cf0"/>
<circle cx="499.2" cy="301.3" r="2.75" fill="#0a3cf0"/>
<circle cx="504.8" cy="326.6" r="2.75" fill="#0a3cf0"/>
<circle cx="508.0" cy="347.6" r="2.75" fill="#0a3cf0"/>
<circle cx="511.5" cy="303.6" r="2.75" fill="#0a3cf0"/>
<circle cx="513.2" cy="339.2" r="2.75" fill="#0a3cf0"/>
<circle cx="515.3" cy="339.6" r="2.75" fill="#0a3cf0"/>
<circle cx="517.4" cy="340.6" r="2.75" fill="#0a3cf0"/>
<circle cx="519.5" cy="339.2" r="2.75" fill="#0a3cf0"/>
<circle cx="521.0" cy="312.4" r="2.75" fill="#0a3cf0"/>
<circle cx="522.6" cy="356.4" r="2.75" fill="#0a3cf0"/>
<circle cx="501.8" cy="413.0" r="2.75" fill="#0a3cf0"/>
<path d="M359.7 254.1L360.1 254.7L360.5 255.6L361.1 256.6L361.8 257.7L362.4 258.9L363.1 260.1L363.7 261.2L364.2 262.2M367.0 270.0L367.2 270.4L367.7 271.4L368.2 272.5L368.7 273.5L369.2 274.6L369.8 275.6L370.3 276.6L370.8 277.6L371.2 278.3M374.4 285.8L374.9 286.8L375.5 287.8L376.0 288.8L376.6 289.8L377.2 290.9L377.8 291.9L378.4 292.9L378.9 293.9L378.9 294.0M382.1 301.6L382.6 302.5L383.1 303.4L383.7 304.4L384.3 305.4L384.9 306.3L385.5 307.3L386.0 308.3L386.6 309.2L386.8 309.6M390.9 316.7L391.4 317.3L392.1 318.2L392.9 319.2L393.7 320.1L394.5 321.0L395.3 321.9L396.1 322.7L396.8 323.5L397.0 323.7M402.9 329.4L403.7 330.1L404.8 330.9L405.8 331.7L406.9 332.5L408.0 333.3L409.1 334.0L410.1 334.7L410.4 334.9M417.7 338.8L418.0 339.0L419.0 339.4L420.1 339.8L421.1 340.2L422.2 340.5L423.3 340.8L424.3 341.1L425.4 341.4L426.5 341.6L426.5 341.6M434.7 342.6L435.3 342.7L436.4 342.8L437.5 343.0L438.6 343.1L439.6 343.2L440.7 343.3L441.8 343.4L442.9 343.5L443.9 343.6M452.2 344.0L452.8 344.0L454.0 344.1L455.2 344.2L456.5 344.3L457.8 344.4L459.1 344.5L460.4 344.5L461.4 344.6M469.7 344.9L470.4 345.0L471.6 345.1L472.8 345.2L474.1 345.4L475.4 345.6L476.7 345.7L478.0 345.9L478.9 346.0M487.1 347.0L488.0 347.1L489.2 347.3L490.4 347.5L491.7 347.7L493.0 347.9L494.3 348.0L495.6 348.2L496.3 348.3M517.2 352.7L518.0 352.9L519.8 353.3L521.5 353.7L523.0 354.1L524.3 354.4L525.3 354.6M504.4 349.7L504.4 349.7L505.4 349.9L506.4 350.2L507.5 350.4L508.5 350.7L509.6 350.9L510.7 351.2L511.2 351.3" fill="none" stroke="#f01020" stroke-width="2.5"/>
<path d="M359.7 297.6L533.3 297.4" fill="none" stroke="#ff7218" stroke-width="2.5" />
<path d="M379.7 375.7V429.2H476" fill="none" stroke="#000" stroke-width="1.35"/>
<path d="M374.8 387.2H379.9M374.8 402.2H379.9M374.8 417.7H379.9M383.7 429.2v4.2M400.4 429.2v4.2M417.1 429.2v4.2M433.8 429.2v4.2M450.5 429.2v4.2M467.2 429.2v4.2" fill="none" stroke="#000" stroke-width="1.2"/>
<text x="371.4" y="389.3" text-anchor="end" class="it3">17.0</text>
<text x="371.4" y="404.3" text-anchor="end" class="it3">16.8</text>
<text x="371.4" y="419.8" text-anchor="end" class="it3">16.6</text>
<text x="383.7" y="443.8" text-anchor="middle" class="it2">0</text>
<text x="400.4" y="443.8" text-anchor="middle" class="it2">100</text>
<text x="417.1" y="443.8" text-anchor="middle" class="it2">200</text>
<text x="433.8" y="443.8" text-anchor="middle" class="it2">300</text>
<text x="450.5" y="443.8" text-anchor="middle" class="it2">400</text>
<text x="467.2" y="443.8" text-anchor="middle" class="it2">500</text>
<path d="M383.8 379.0L383.9 394.5L384.5 409.0" fill="none" stroke="#ffa510" stroke-width="1.6" />
<path d="M383.8 394.5L383.9 423.0L384.5 416.0L385.2 411.0" fill="none" stroke="#ff4a10" stroke-width="1.7" />
<path d="M385.0 410.5L385.8 409.7L386.6 408.0L387.4 407.1L388.2 406.2L389.0 405.3L389.8 404.5L390.6 404.8L391.4 404.1L392.2 402.9L393.0 402.9L393.8 402.3L394.6 401.9L395.4 401.6L396.2 401.6L397.0 401.2L397.8 400.6L398.6 400.1L399.4 400.0L400.2 399.4L401.0 399.6L401.8 399.4L402.6 398.8L403.4 398.3L404.2 398.1L405.0 398.0L405.8 398.0L406.6 397.9L407.4 397.2L408.2 397.4L409.0 397.0L409.8 396.6L410.6 396.3L411.4 396.3L412.2 396.3L413.0 395.8L413.8 395.9L414.6 395.5L415.4 395.1L416.2 395.3L417.0 395.3L417.8 394.5L418.6 394.7L419.4 394.6L420.2 394.9L421.0 394.8L421.8 394.1L422.6 394.5L423.4 394.3L424.2 393.7L425.0 393.7L425.8 393.3L426.6 393.9L427.4 393.6L428.2 393.8L429.0 393.6L429.8 393.4L430.6 393.3L431.4 393.1L432.2 392.6L433.0 393.0L433.8 392.3L434.6 392.4L435.4 392.9L436.2 392.1L437.0 392.0L437.8 392.0L438.6 392.7L439.4 391.9L440.2 391.6L441.0 392.4L441.8 391.6L442.6 392.2L443.4 392.0L444.2 392.1L445.0 392.1L445.8 391.7L446.6 391.9L447.4 391.0L448.2 391.7L449.0 391.4L449.8 391.6L450.6 390.9L451.4 391.5L452.2 391.6L453.0 390.7L453.8 391.0L454.6 391.2L455.4 391.4L456.2 390.8L457.0 390.7L457.8 390.7L458.6 391.1L459.4 391.2L460.2 390.8L461.0 390.7L461.8 390.7L462.6 390.7L463.4 390.7L464.2 390.3L465.0 390.7L465.8 391.2L466.6 390.6L467.4 390.9L468.2 390.3L469.0 390.8L469.8 390.8L470.6 390.7L471.4 390.6L472.2 390.5L473.0 390.6L473.8 390.9L474.6 390.1L475.4 390.0" fill="none" stroke="#ffa510" stroke-width="2.3" />
<path d="M385.0 412.0L385.0 411.9L385.1 411.7L385.1 411.4L385.1 411.2L385.2 410.9L385.2 410.6L385.3 410.4L385.4 410.1L385.5 409.8L385.6 409.5L385.7 409.2L385.9 409.0L386.1 408.7L386.2 408.4L386.4 408.1L386.6 407.8L386.9 407.6L387.1 407.3L387.3 407.0L387.6 406.7L387.9 406.4L388.2 406.1L388.6 405.7L389.0 405.4L389.4 405.1L389.8 404.8L390.2 404.5L390.5 404.2L390.8 404.0L391.0 403.8" fill="none" stroke="#ff4a10" stroke-width="1.9" />
<path d="M389.5 404.8L389.6 404.7L389.7 404.7L389.7 404.6L389.8 404.5L389.9 404.4L390.1 404.3L390.3 404.2L390.5 404.1L390.7 403.9L391.0 403.8L391.3 403.6L391.7 403.5L392.1 403.3L392.5 403.1L393.0 402.9L393.5 402.7L394.0 402.5L394.6 402.3L395.2 402.1L395.8 401.9L396.4 401.7L397.1 401.5L397.7 401.4L398.4 401.2L399.1 401.0L399.9 400.9L400.8 400.7L401.7 400.6L402.7 400.4L403.9 400.3L405.2 400.2L406.5 400.1L407.9 400.0L409.5 399.9L411.1 399.8L412.7 399.7L414.5 399.7L416.4 399.6L418.3 399.5L420.3 399.4L422.4 399.3L424.6 399.2L426.9 399.1L429.3 398.9L431.8 398.8L434.3 398.7L436.9 398.6L439.5 398.5L442.2 398.4L445.0 398.3L448.0 398.2L451.2 398.2L454.7 398.1L458.3 398.0L461.9 398.0L465.3 397.9L468.6 397.9L471.4 397.9L473.8 397.8L475.7 397.8" fill="none" stroke="#ff4a10" stroke-width="2.7" />
<path d="M387.6 406.8L388.4 406.1L389.2 405.2L390.0 404.5L390.8 404.1L391.6 403.1L392.4 402.8L393.2 402.3L394.0 402.6L394.8 401.9L395.6 401.5L396.4 402.1L397.2 402.4L398.0 400.9L398.8 401.6L399.6 400.7L400.4 401.6L401.2 400.8L402.0 400.0L402.8 399.7L403.6 399.2L404.4 400.2L405.2 399.9L406.0 399.3L406.8 399.7L407.6 399.6L408.4 400.6L409.2 399.1L410.0 401.1L410.8 399.8L411.6 400.0L412.4 399.7L413.2 400.5L414.0 400.5L414.8 399.8L415.6 399.6L416.4 400.1L417.2 400.4L418.0 399.3L418.8 400.0L419.6 400.5L420.4 399.3L421.2 398.7L422.0 398.7L422.8 399.8L423.6 399.7L424.4 400.3L425.2 400.0L426.0 398.5L426.8 398.3L427.6 398.5L428.4 398.2L429.2 399.4L430.0 399.8L430.8 399.8L431.6 398.2L432.4 399.7L433.2 398.3L434.0 398.5L434.8 399.2L435.6 397.7L436.4 397.6L437.2 399.4L438.0 398.0L438.8 398.2L439.6 398.7L440.4 398.9L441.2 397.2L442.0 398.0L442.8 398.2L443.6 398.3L444.4 397.6L445.2 398.5L446.0 399.4L446.8 398.0L447.6 398.3L448.4 397.3L449.2 397.7L450.0 398.6L450.8 397.2L451.6 399.1L452.4 399.1L453.2 397.1L454.0 399.2L454.8 397.8L455.6 398.7L456.4 398.7L457.2 397.6L458.0 398.5L458.8 398.4L459.6 398.7L460.4 397.4L461.2 398.6L462.0 399.1L462.8 398.4L463.6 398.0L464.4 397.0L465.2 397.9L466.0 397.6L466.8 398.4L467.6 398.3L468.4 398.1L469.2 397.1L470.0 398.2L470.8 398.2L471.6 397.1L472.4 398.8L473.2 398.2L474.0 396.9L474.8 398.9L475.6 396.9" fill="none" stroke="#ff4a10" stroke-width="2.3" />
</svg>
</body></html>
